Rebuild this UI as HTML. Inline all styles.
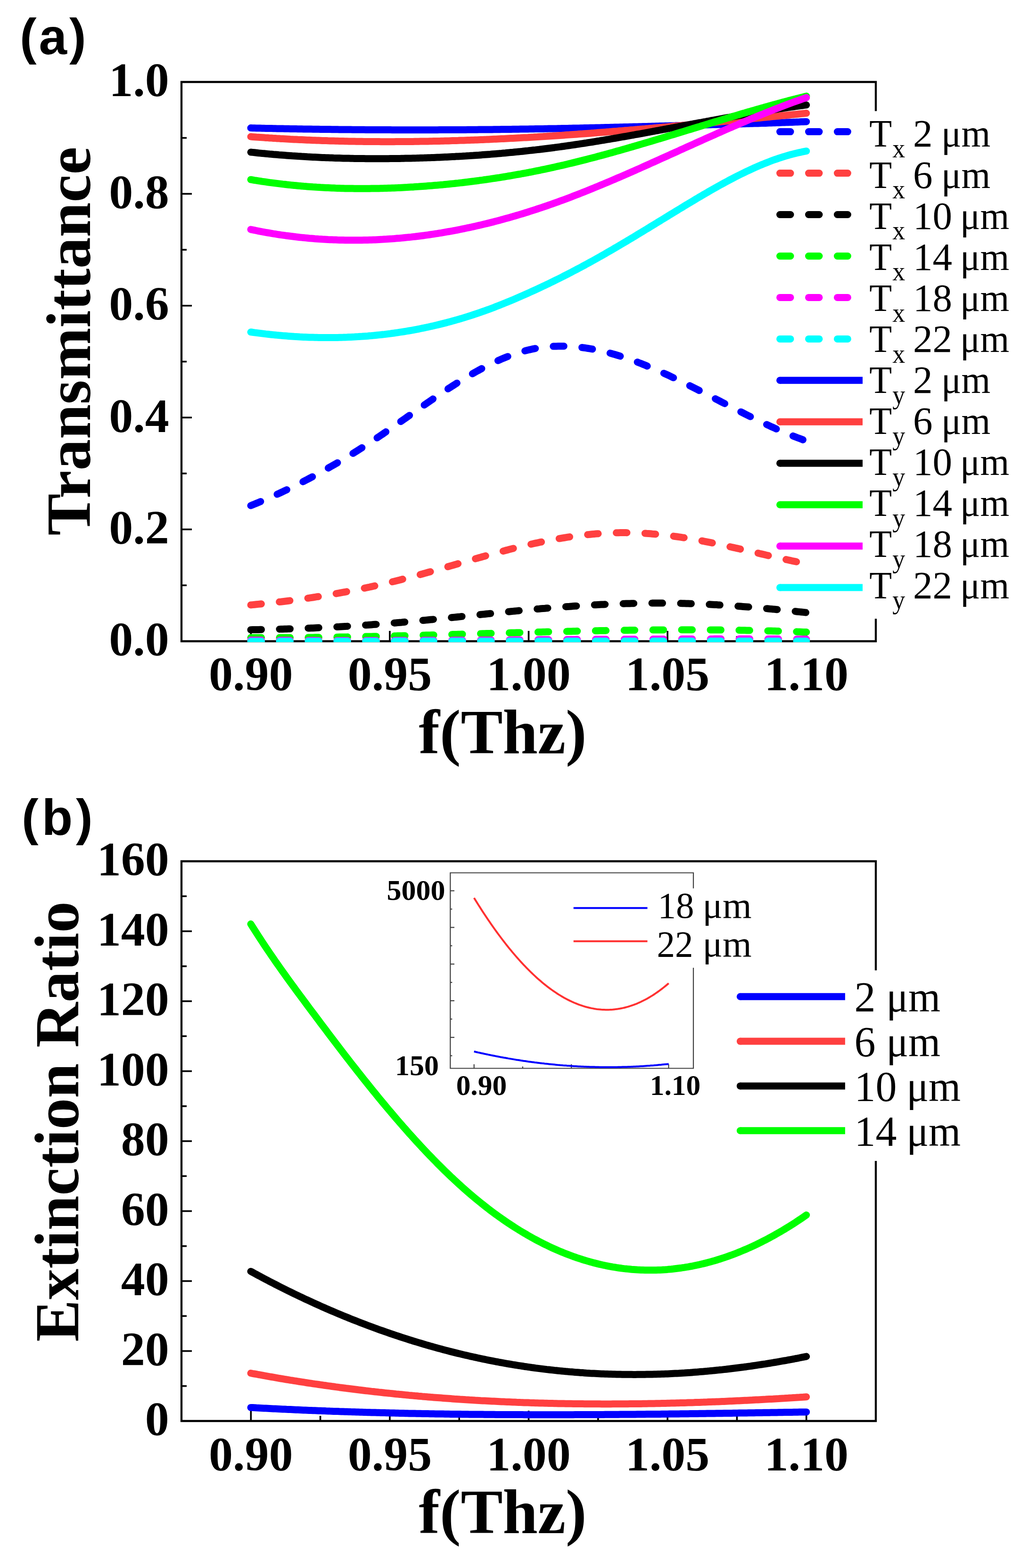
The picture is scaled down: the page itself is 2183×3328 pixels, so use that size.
<!DOCTYPE html>
<html><head><meta charset="utf-8"><title>Transmittance and Extinction Ratio</title>
<style>html,body{margin:0;padding:0;background:#fff;} svg{display:block;}</style></head>
<body><svg width="2183" height="3328" viewBox="0 0 2183 3328">
<rect width="2183" height="3328" fill="#fff"/>
<path d="M1858,235.8 L1858,174 L385,174 L385,1361 L1858,1361 L1858,1313.2" stroke="#000" stroke-width="4.3" fill="none" stroke-linejoin="miter"/>
<g stroke="#000" stroke-width="3.6" fill="none">
<line x1="385" y1="1361.0" x2="407" y2="1361.0"/>
<line x1="385" y1="1242.3" x2="396" y2="1242.3"/>
<line x1="385" y1="1123.6" x2="407" y2="1123.6"/>
<line x1="385" y1="1004.9" x2="396" y2="1004.9"/>
<line x1="385" y1="886.2" x2="407" y2="886.2"/>
<line x1="385" y1="767.5" x2="396" y2="767.5"/>
<line x1="385" y1="648.8" x2="407" y2="648.8"/>
<line x1="385" y1="530.1" x2="396" y2="530.1"/>
<line x1="385" y1="411.4" x2="407" y2="411.4"/>
<line x1="385" y1="292.7" x2="396" y2="292.7"/>
<line x1="385" y1="174.0" x2="407" y2="174.0"/>
<line x1="532.3" y1="1361" x2="532.3" y2="1339"/>
<line x1="679.6" y1="1361" x2="679.6" y2="1350"/>
<line x1="826.9" y1="1361" x2="826.9" y2="1339"/>
<line x1="974.2" y1="1361" x2="974.2" y2="1350"/>
<line x1="1121.5" y1="1361" x2="1121.5" y2="1339"/>
<line x1="1268.8" y1="1361" x2="1268.8" y2="1350"/>
<line x1="1416.1" y1="1361" x2="1416.1" y2="1339"/>
<line x1="1563.4" y1="1361" x2="1563.4" y2="1350"/>
<line x1="1710.7" y1="1361" x2="1710.7" y2="1339"/>
</g>
<text x="358.8" y="1391.4" font-family='"Liberation Serif", "Times New Roman", serif' font-size="102" font-weight="bold" text-anchor="end" >0.0</text>
<text x="358.8" y="1154.0" font-family='"Liberation Serif", "Times New Roman", serif' font-size="102" font-weight="bold" text-anchor="end" >0.2</text>
<text x="358.8" y="916.6" font-family='"Liberation Serif", "Times New Roman", serif' font-size="102" font-weight="bold" text-anchor="end" >0.4</text>
<text x="358.8" y="679.2" font-family='"Liberation Serif", "Times New Roman", serif' font-size="102" font-weight="bold" text-anchor="end" >0.6</text>
<text x="358.8" y="441.8" font-family='"Liberation Serif", "Times New Roman", serif' font-size="102" font-weight="bold" text-anchor="end" >0.8</text>
<text x="358.8" y="204.4" font-family='"Liberation Serif", "Times New Roman", serif' font-size="102" font-weight="bold" text-anchor="end" >1.0</text>
<text x="532.3" y="1465.4" font-family='"Liberation Serif", "Times New Roman", serif' font-size="102" font-weight="bold" text-anchor="middle" >0.90</text>
<text x="826.9" y="1465.4" font-family='"Liberation Serif", "Times New Roman", serif' font-size="102" font-weight="bold" text-anchor="middle" >0.95</text>
<text x="1121.5" y="1465.4" font-family='"Liberation Serif", "Times New Roman", serif' font-size="102" font-weight="bold" text-anchor="middle" >1.00</text>
<text x="1416.1" y="1465.4" font-family='"Liberation Serif", "Times New Roman", serif' font-size="102" font-weight="bold" text-anchor="middle" >1.05</text>
<text x="1710.7" y="1465.4" font-family='"Liberation Serif", "Times New Roman", serif' font-size="102" font-weight="bold" text-anchor="middle" >1.10</text>
<text x="1066.5" y="1599.2" font-family='"Liberation Serif", "Times New Roman", serif' font-size="133.5" font-weight="bold" text-anchor="middle" >f(Thz)</text>
<text transform="translate(190.8,724) rotate(-90)" font-family='"Liberation Serif", "Times New Roman", serif' font-size="133" font-weight="bold" text-anchor="middle">Transmittance</text>
<text x="41.9" y="114.7" font-family='"Liberation Sans", Arial, sans-serif' font-size="107" font-weight="bold" text-anchor="start" letter-spacing="5">(a)</text>
<defs><clipPath id="clipA"><rect x="383" y="172" width="1477" height="1191"/></clipPath><clipPath id="clipB"><rect x="383" y="1826" width="1477" height="1192"/></clipPath></defs>
<g fill="none" stroke-width="15" stroke-linecap="round" stroke-linejoin="round" clip-path="url(#clipA)">
<path d="M532.0,271.6 L536.0,271.7 L540.0,271.8 L544.0,271.9 L548.0,272.0 L552.0,272.1 L556.0,272.2 L560.0,272.3 L564.0,272.4 L568.0,272.4 L572.0,272.5 L576.0,272.6 L580.0,272.7 L584.0,272.8 L588.0,272.9 L592.0,272.9 L596.0,273.0 L600.0,273.1 L604.0,273.2 L608.0,273.2 L612.0,273.3 L616.0,273.4 L620.0,273.5 L624.0,273.5 L628.0,273.6 L632.0,273.7 L636.0,273.7 L640.0,273.8 L644.0,273.9 L648.0,273.9 L652.0,274.0 L656.0,274.0 L660.0,274.1 L664.0,274.2 L668.0,274.2 L672.0,274.3 L676.0,274.3 L680.0,274.4 L684.0,274.4 L688.0,274.5 L692.0,274.5 L696.0,274.6 L700.0,274.6 L704.0,274.7 L708.0,274.7 L712.0,274.8 L716.0,274.8 L720.0,274.9 L724.0,274.9 L728.0,275.0 L732.0,275.0 L736.0,275.0 L740.0,275.1 L744.0,275.1 L748.0,275.2 L752.0,275.2 L756.0,275.2 L760.0,275.3 L764.0,275.3 L768.0,275.3 L772.0,275.3 L776.0,275.4 L780.0,275.4 L784.0,275.4 L788.0,275.4 L792.0,275.5 L796.0,275.5 L800.0,275.5 L804.0,275.5 L808.0,275.6 L812.0,275.6 L816.0,275.6 L820.0,275.6 L824.0,275.6 L828.0,275.6 L832.0,275.7 L836.0,275.7 L840.0,275.7 L844.0,275.7 L848.0,275.7 L852.0,275.7 L856.0,275.7 L860.0,275.7 L864.0,275.7 L868.0,275.7 L872.0,275.7 L876.0,275.7 L880.0,275.7 L884.0,275.7 L888.0,275.7 L892.0,275.7 L896.0,275.7 L900.0,275.7 L904.0,275.7 L908.0,275.7 L912.0,275.7 L916.0,275.7 L920.0,275.7 L924.0,275.7 L928.0,275.7 L932.0,275.6 L936.0,275.6 L940.0,275.6 L944.0,275.6 L948.0,275.6 L952.0,275.6 L956.0,275.5 L960.0,275.5 L964.0,275.5 L968.0,275.5 L972.0,275.5 L976.0,275.4 L980.0,275.4 L984.0,275.4 L988.0,275.4 L992.0,275.3 L996.0,275.3 L1000.0,275.3 L1004.0,275.2 L1008.0,275.2 L1012.0,275.2 L1016.0,275.1 L1020.0,275.1 L1024.0,275.1 L1028.0,275.0 L1032.0,275.0 L1036.0,274.9 L1040.0,274.9 L1044.0,274.9 L1048.0,274.8 L1052.0,274.8 L1056.0,274.7 L1060.0,274.7 L1064.0,274.6 L1068.0,274.6 L1072.0,274.5 L1076.0,274.5 L1080.0,274.4 L1084.0,274.4 L1088.0,274.3 L1092.0,274.3 L1096.0,274.2 L1100.0,274.2 L1104.0,274.1 L1108.0,274.1 L1112.0,274.0 L1116.0,273.9 L1120.0,273.9 L1124.0,273.8 L1128.0,273.8 L1132.0,273.7 L1136.0,273.6 L1140.0,273.6 L1144.0,273.5 L1148.0,273.4 L1152.0,273.4 L1156.0,273.3 L1160.0,273.2 L1164.0,273.1 L1168.0,273.1 L1172.0,273.0 L1176.0,272.9 L1180.0,272.9 L1184.0,272.8 L1188.0,272.7 L1192.0,272.6 L1196.0,272.5 L1200.0,272.5 L1204.0,272.4 L1208.0,272.3 L1212.0,272.2 L1216.0,272.1 L1220.0,272.0 L1224.0,272.0 L1228.0,271.9 L1232.0,271.8 L1236.0,271.7 L1240.0,271.6 L1244.0,271.5 L1248.0,271.4 L1252.0,271.3 L1256.0,271.3 L1260.0,271.2 L1264.0,271.1 L1268.0,271.0 L1272.0,270.9 L1276.0,270.8 L1280.0,270.7 L1284.0,270.6 L1288.0,270.5 L1292.0,270.4 L1296.0,270.3 L1300.0,270.2 L1304.0,270.1 L1308.0,270.0 L1312.0,269.9 L1316.0,269.8 L1320.0,269.7 L1324.0,269.6 L1328.0,269.5 L1332.0,269.4 L1336.0,269.3 L1340.0,269.2 L1344.0,269.1 L1348.0,269.0 L1352.0,268.9 L1356.0,268.8 L1360.0,268.7 L1364.0,268.6 L1368.0,268.5 L1372.0,268.4 L1376.0,268.3 L1380.0,268.2 L1384.0,268.0 L1388.0,267.9 L1392.0,267.8 L1396.0,267.7 L1400.0,267.6 L1404.0,267.5 L1408.0,267.4 L1412.0,267.3 L1416.0,267.2 L1420.0,267.1 L1424.0,267.0 L1428.0,266.9 L1432.0,266.8 L1436.0,266.6 L1440.0,266.5 L1444.0,266.4 L1448.0,266.3 L1452.0,266.2 L1456.0,266.1 L1460.0,266.0 L1464.0,265.9 L1468.0,265.8 L1472.0,265.7 L1476.0,265.6 L1480.0,265.5 L1484.0,265.4 L1488.0,265.2 L1492.0,265.1 L1496.0,265.0 L1500.0,264.9 L1504.0,264.8 L1508.0,264.7 L1512.0,264.6 L1516.0,264.5 L1520.0,264.4 L1524.0,264.3 L1528.0,264.2 L1532.0,264.1 L1536.0,263.9 L1540.0,263.8 L1544.0,263.7 L1548.0,263.6 L1552.0,263.5 L1556.0,263.4 L1560.0,263.3 L1564.0,263.2 L1568.0,263.0 L1572.0,262.9 L1576.0,262.8 L1580.0,262.7 L1584.0,262.6 L1588.0,262.5 L1592.0,262.3 L1596.0,262.2 L1600.0,262.1 L1604.0,262.0 L1608.0,261.9 L1612.0,261.7 L1616.0,261.6 L1620.0,261.5 L1624.0,261.4 L1628.0,261.2 L1632.0,261.1 L1636.0,261.0 L1640.0,260.8 L1644.0,260.7 L1648.0,260.6 L1652.0,260.4 L1656.0,260.3 L1660.0,260.1 L1664.0,260.0 L1668.0,259.8 L1672.0,259.7 L1676.0,259.5 L1680.0,259.4 L1684.0,259.2 L1688.0,259.1 L1692.0,258.9 L1696.0,258.8 L1700.0,258.6 L1704.0,258.5 L1708.0,258.3 L1710.7,258.2" stroke="#0000ff"/>
<path d="M532.0,290.1 L536.0,290.4 L540.0,290.7 L544.0,291.0 L548.0,291.2 L552.0,291.5 L556.0,291.8 L560.0,292.1 L564.0,292.4 L568.0,292.6 L572.0,292.9 L576.0,293.1 L580.0,293.4 L584.0,293.6 L588.0,293.9 L592.0,294.1 L596.0,294.4 L600.0,294.6 L604.0,294.8 L608.0,295.0 L612.0,295.2 L616.0,295.5 L620.0,295.7 L624.0,295.9 L628.0,296.1 L632.0,296.3 L636.0,296.4 L640.0,296.6 L644.0,296.8 L648.0,297.0 L652.0,297.2 L656.0,297.3 L660.0,297.5 L664.0,297.7 L668.0,297.8 L672.0,298.0 L676.0,298.1 L680.0,298.2 L684.0,298.4 L688.0,298.5 L692.0,298.6 L696.0,298.8 L700.0,298.9 L704.0,299.0 L708.0,299.1 L712.0,299.2 L716.0,299.3 L720.0,299.4 L724.0,299.5 L728.0,299.6 L732.0,299.7 L736.0,299.8 L740.0,299.9 L744.0,300.0 L748.0,300.0 L752.0,300.1 L756.0,300.2 L760.0,300.2 L764.0,300.3 L768.0,300.3 L772.0,300.4 L776.0,300.4 L780.0,300.5 L784.0,300.5 L788.0,300.5 L792.0,300.6 L796.0,300.6 L800.0,300.6 L804.0,300.6 L808.0,300.7 L812.0,300.7 L816.0,300.7 L820.0,300.7 L824.0,300.7 L828.0,300.7 L832.0,300.7 L836.0,300.7 L840.0,300.6 L844.0,300.6 L848.0,300.6 L852.0,300.6 L856.0,300.6 L860.0,300.5 L864.0,300.5 L868.0,300.4 L872.0,300.4 L876.0,300.4 L880.0,300.3 L884.0,300.3 L888.0,300.2 L892.0,300.1 L896.0,300.1 L900.0,300.0 L904.0,299.9 L908.0,299.9 L912.0,299.8 L916.0,299.7 L920.0,299.6 L924.0,299.5 L928.0,299.5 L932.0,299.4 L936.0,299.3 L940.0,299.2 L944.0,299.1 L948.0,299.0 L952.0,298.9 L956.0,298.7 L960.0,298.6 L964.0,298.5 L968.0,298.4 L972.0,298.3 L976.0,298.1 L980.0,298.0 L984.0,297.9 L988.0,297.7 L992.0,297.6 L996.0,297.5 L1000.0,297.3 L1004.0,297.2 L1008.0,297.0 L1012.0,296.9 L1016.0,296.7 L1020.0,296.5 L1024.0,296.4 L1028.0,296.2 L1032.0,296.1 L1036.0,295.9 L1040.0,295.7 L1044.0,295.5 L1048.0,295.3 L1052.0,295.2 L1056.0,295.0 L1060.0,294.8 L1064.0,294.6 L1068.0,294.4 L1072.0,294.2 L1076.0,294.0 L1080.0,293.8 L1084.0,293.6 L1088.0,293.4 L1092.0,293.2 L1096.0,293.0 L1100.0,292.8 L1104.0,292.6 L1108.0,292.3 L1112.0,292.1 L1116.0,291.9 L1120.0,291.7 L1124.0,291.4 L1128.0,291.2 L1132.0,291.0 L1136.0,290.7 L1140.0,290.5 L1144.0,290.2 L1148.0,290.0 L1152.0,289.8 L1156.0,289.5 L1160.0,289.3 L1164.0,289.0 L1168.0,288.7 L1172.0,288.5 L1176.0,288.2 L1180.0,288.0 L1184.0,287.7 L1188.0,287.4 L1192.0,287.2 L1196.0,286.9 L1200.0,286.6 L1204.0,286.3 L1208.0,286.1 L1212.0,285.8 L1216.0,285.5 L1220.0,285.2 L1224.0,284.9 L1228.0,284.6 L1232.0,284.3 L1236.0,284.1 L1240.0,283.8 L1244.0,283.5 L1248.0,283.2 L1252.0,282.9 L1256.0,282.6 L1260.0,282.3 L1264.0,281.9 L1268.0,281.6 L1272.0,281.3 L1276.0,281.0 L1280.0,280.7 L1284.0,280.4 L1288.0,280.1 L1292.0,279.8 L1296.0,279.4 L1300.0,279.1 L1304.0,278.8 L1308.0,278.5 L1312.0,278.1 L1316.0,277.8 L1320.0,277.5 L1324.0,277.1 L1328.0,276.8 L1332.0,276.5 L1336.0,276.1 L1340.0,275.8 L1344.0,275.5 L1348.0,275.1 L1352.0,274.8 L1356.0,274.4 L1360.0,274.1 L1364.0,273.7 L1368.0,273.4 L1372.0,273.0 L1376.0,272.7 L1380.0,272.3 L1384.0,272.0 L1388.0,271.6 L1392.0,271.3 L1396.0,270.9 L1400.0,270.5 L1404.0,270.2 L1408.0,269.8 L1412.0,269.5 L1416.0,269.1 L1420.0,268.7 L1424.0,268.4 L1428.0,268.0 L1432.0,267.6 L1436.0,267.3 L1440.0,266.9 L1444.0,266.5 L1448.0,266.1 L1452.0,265.8 L1456.0,265.4 L1460.0,265.0 L1464.0,264.6 L1468.0,264.3 L1472.0,263.9 L1476.0,263.5 L1480.0,263.1 L1484.0,262.7 L1488.0,262.4 L1492.0,262.0 L1496.0,261.6 L1500.0,261.2 L1504.0,260.8 L1508.0,260.4 L1512.0,260.0 L1516.0,259.7 L1520.0,259.3 L1524.0,258.9 L1528.0,258.5 L1532.0,258.1 L1536.0,257.7 L1540.0,257.3 L1544.0,256.9 L1548.0,256.5 L1552.0,256.1 L1556.0,255.7 L1560.0,255.3 L1564.0,255.0 L1568.0,254.6 L1572.0,254.2 L1576.0,253.8 L1580.0,253.4 L1584.0,253.0 L1588.0,252.6 L1592.0,252.2 L1596.0,251.8 L1600.0,251.4 L1604.0,251.0 L1608.0,250.6 L1612.0,250.2 L1616.0,249.8 L1620.0,249.4 L1624.0,249.0 L1628.0,248.6 L1632.0,248.2 L1636.0,247.8 L1640.0,247.4 L1644.0,247.0 L1648.0,246.6 L1652.0,246.2 L1656.0,245.8 L1660.0,245.4 L1664.0,245.0 L1668.0,244.6 L1672.0,244.2 L1676.0,243.8 L1680.0,243.4 L1684.0,243.0 L1688.0,242.6 L1692.0,242.2 L1696.0,241.8 L1700.0,241.4 L1704.0,241.0 L1708.0,240.6 L1710.7,240.3" stroke="#ff4040"/>
<path d="M532.0,323.0 L536.0,323.4 L540.0,323.8 L544.0,324.2 L548.0,324.7 L552.0,325.1 L556.0,325.5 L560.0,325.8 L564.0,326.2 L568.0,326.6 L572.0,327.0 L576.0,327.3 L580.0,327.7 L584.0,328.0 L588.0,328.3 L592.0,328.7 L596.0,329.0 L600.0,329.3 L604.0,329.6 L608.0,329.9 L612.0,330.2 L616.0,330.5 L620.0,330.8 L624.0,331.0 L628.0,331.3 L632.0,331.6 L636.0,331.8 L640.0,332.1 L644.0,332.3 L648.0,332.5 L652.0,332.8 L656.0,333.0 L660.0,333.2 L664.0,333.4 L668.0,333.6 L672.0,333.8 L676.0,334.0 L680.0,334.2 L684.0,334.4 L688.0,334.5 L692.0,334.7 L696.0,334.8 L700.0,335.0 L704.0,335.1 L708.0,335.3 L712.0,335.4 L716.0,335.5 L720.0,335.6 L724.0,335.7 L728.0,335.9 L732.0,336.0 L736.0,336.0 L740.0,336.1 L744.0,336.2 L748.0,336.3 L752.0,336.4 L756.0,336.4 L760.0,336.5 L764.0,336.5 L768.0,336.6 L772.0,336.6 L776.0,336.7 L780.0,336.7 L784.0,336.7 L788.0,336.7 L792.0,336.7 L796.0,336.8 L800.0,336.8 L804.0,336.8 L808.0,336.7 L812.0,336.7 L816.0,336.7 L820.0,336.7 L824.0,336.7 L828.0,336.6 L832.0,336.6 L836.0,336.5 L840.0,336.5 L844.0,336.4 L848.0,336.4 L852.0,336.3 L856.0,336.2 L860.0,336.1 L864.0,336.0 L868.0,336.0 L872.0,335.9 L876.0,335.8 L880.0,335.7 L884.0,335.6 L888.0,335.4 L892.0,335.3 L896.0,335.2 L900.0,335.1 L904.0,334.9 L908.0,334.8 L912.0,334.7 L916.0,334.5 L920.0,334.4 L924.0,334.2 L928.0,334.0 L932.0,333.9 L936.0,333.7 L940.0,333.5 L944.0,333.3 L948.0,333.2 L952.0,333.0 L956.0,332.8 L960.0,332.6 L964.0,332.4 L968.0,332.1 L972.0,331.9 L976.0,331.7 L980.0,331.5 L984.0,331.2 L988.0,331.0 L992.0,330.7 L996.0,330.5 L1000.0,330.2 L1004.0,330.0 L1008.0,329.7 L1012.0,329.4 L1016.0,329.2 L1020.0,328.9 L1024.0,328.6 L1028.0,328.3 L1032.0,328.0 L1036.0,327.7 L1040.0,327.4 L1044.0,327.0 L1048.0,326.7 L1052.0,326.4 L1056.0,326.1 L1060.0,325.7 L1064.0,325.4 L1068.0,325.0 L1072.0,324.7 L1076.0,324.3 L1080.0,323.9 L1084.0,323.5 L1088.0,323.2 L1092.0,322.8 L1096.0,322.4 L1100.0,322.0 L1104.0,321.6 L1108.0,321.2 L1112.0,320.7 L1116.0,320.3 L1120.0,319.9 L1124.0,319.4 L1128.0,319.0 L1132.0,318.5 L1136.0,318.1 L1140.0,317.6 L1144.0,317.2 L1148.0,316.7 L1152.0,316.2 L1156.0,315.7 L1160.0,315.2 L1164.0,314.7 L1168.0,314.2 L1172.0,313.7 L1176.0,313.2 L1180.0,312.6 L1184.0,312.1 L1188.0,311.6 L1192.0,311.0 L1196.0,310.5 L1200.0,309.9 L1204.0,309.3 L1208.0,308.8 L1212.0,308.2 L1216.0,307.6 L1220.0,307.0 L1224.0,306.4 L1228.0,305.8 L1232.0,305.2 L1236.0,304.6 L1240.0,304.0 L1244.0,303.4 L1248.0,302.7 L1252.0,302.1 L1256.0,301.5 L1260.0,300.8 L1264.0,300.2 L1268.0,299.5 L1272.0,298.9 L1276.0,298.2 L1280.0,297.6 L1284.0,296.9 L1288.0,296.2 L1292.0,295.6 L1296.0,294.9 L1300.0,294.2 L1304.0,293.5 L1308.0,292.8 L1312.0,292.1 L1316.0,291.4 L1320.0,290.7 L1324.0,290.0 L1328.0,289.3 L1332.0,288.6 L1336.0,287.9 L1340.0,287.2 L1344.0,286.5 L1348.0,285.7 L1352.0,285.0 L1356.0,284.3 L1360.0,283.6 L1364.0,282.8 L1368.0,282.1 L1372.0,281.4 L1376.0,280.7 L1380.0,279.9 L1384.0,279.2 L1388.0,278.4 L1392.0,277.7 L1396.0,277.0 L1400.0,276.2 L1404.0,275.5 L1408.0,274.7 L1412.0,274.0 L1416.0,273.2 L1420.0,272.5 L1424.0,271.7 L1428.0,271.0 L1432.0,270.2 L1436.0,269.5 L1440.0,268.7 L1444.0,268.0 L1448.0,267.2 L1452.0,266.5 L1456.0,265.7 L1460.0,265.0 L1464.0,264.2 L1468.0,263.5 L1472.0,262.7 L1476.0,262.0 L1480.0,261.2 L1484.0,260.5 L1488.0,259.8 L1492.0,259.0 L1496.0,258.3 L1500.0,257.5 L1504.0,256.8 L1508.0,256.0 L1512.0,255.3 L1516.0,254.6 L1520.0,253.8 L1524.0,253.1 L1528.0,252.4 L1532.0,251.7 L1536.0,250.9 L1540.0,250.2 L1544.0,249.5 L1548.0,248.8 L1552.0,248.0 L1556.0,247.3 L1560.0,246.6 L1564.0,245.9 L1568.0,245.2 L1572.0,244.5 L1576.0,243.8 L1580.0,243.1 L1584.0,242.4 L1588.0,241.7 L1592.0,241.0 L1596.0,240.4 L1600.0,239.7 L1604.0,239.0 L1608.0,238.3 L1612.0,237.7 L1616.0,237.0 L1620.0,236.4 L1624.0,235.7 L1628.0,235.0 L1632.0,234.4 L1636.0,233.8 L1640.0,233.1 L1644.0,232.5 L1648.0,231.9 L1652.0,231.2 L1656.0,230.6 L1660.0,230.0 L1664.0,229.4 L1668.0,228.8 L1672.0,228.2 L1676.0,227.6 L1680.0,227.1 L1684.0,226.5 L1688.0,225.9 L1692.0,225.3 L1696.0,224.8 L1700.0,224.2 L1704.0,223.7 L1708.0,223.1 L1710.7,222.8" stroke="#000000"/>
<path d="M532.0,381.2 L536.0,381.9 L540.0,382.6 L544.0,383.2 L548.0,383.8 L552.0,384.4 L556.0,385.1 L560.0,385.6 L564.0,386.2 L568.0,386.8 L572.0,387.4 L576.0,387.9 L580.0,388.4 L584.0,388.9 L588.0,389.4 L592.0,389.9 L596.0,390.4 L600.0,390.9 L604.0,391.3 L608.0,391.8 L612.0,392.2 L616.0,392.6 L620.0,393.1 L624.0,393.4 L628.0,393.8 L632.0,394.2 L636.0,394.6 L640.0,394.9 L644.0,395.3 L648.0,395.6 L652.0,395.9 L656.0,396.2 L660.0,396.5 L664.0,396.8 L668.0,397.0 L672.0,397.3 L676.0,397.5 L680.0,397.8 L684.0,398.0 L688.0,398.2 L692.0,398.4 L696.0,398.6 L700.0,398.8 L704.0,399.0 L708.0,399.1 L712.0,399.3 L716.0,399.4 L720.0,399.5 L724.0,399.7 L728.0,399.8 L732.0,399.9 L736.0,399.9 L740.0,400.0 L744.0,400.1 L748.0,400.1 L752.0,400.2 L756.0,400.2 L760.0,400.2 L764.0,400.3 L768.0,400.3 L772.0,400.3 L776.0,400.2 L780.0,400.2 L784.0,400.2 L788.0,400.1 L792.0,400.1 L796.0,400.0 L800.0,400.0 L804.0,399.9 L808.0,399.8 L812.0,399.7 L816.0,399.6 L820.0,399.5 L824.0,399.3 L828.0,399.2 L832.0,399.0 L836.0,398.9 L840.0,398.7 L844.0,398.6 L848.0,398.4 L852.0,398.2 L856.0,398.0 L860.0,397.8 L864.0,397.6 L868.0,397.3 L872.0,397.1 L876.0,396.9 L880.0,396.6 L884.0,396.3 L888.0,396.1 L892.0,395.8 L896.0,395.5 L900.0,395.2 L904.0,394.9 L908.0,394.6 L912.0,394.3 L916.0,394.0 L920.0,393.6 L924.0,393.3 L928.0,393.0 L932.0,392.6 L936.0,392.2 L940.0,391.9 L944.0,391.5 L948.0,391.1 L952.0,390.7 L956.0,390.3 L960.0,389.9 L964.0,389.5 L968.0,389.0 L972.0,388.6 L976.0,388.1 L980.0,387.7 L984.0,387.2 L988.0,386.7 L992.0,386.3 L996.0,385.8 L1000.0,385.3 L1004.0,384.8 L1008.0,384.2 L1012.0,383.7 L1016.0,383.2 L1020.0,382.6 L1024.0,382.1 L1028.0,381.5 L1032.0,381.0 L1036.0,380.4 L1040.0,379.8 L1044.0,379.2 L1048.0,378.6 L1052.0,378.0 L1056.0,377.4 L1060.0,376.8 L1064.0,376.1 L1068.0,375.5 L1072.0,374.8 L1076.0,374.2 L1080.0,373.5 L1084.0,372.8 L1088.0,372.1 L1092.0,371.4 L1096.0,370.7 L1100.0,370.0 L1104.0,369.3 L1108.0,368.5 L1112.0,367.8 L1116.0,367.1 L1120.0,366.3 L1124.0,365.5 L1128.0,364.8 L1132.0,364.0 L1136.0,363.2 L1140.0,362.4 L1144.0,361.6 L1148.0,360.7 L1152.0,359.9 L1156.0,359.1 L1160.0,358.2 L1164.0,357.4 L1168.0,356.5 L1172.0,355.6 L1176.0,354.7 L1180.0,353.8 L1184.0,352.9 L1188.0,352.0 L1192.0,351.1 L1196.0,350.2 L1200.0,349.2 L1204.0,348.3 L1208.0,347.3 L1212.0,346.4 L1216.0,345.4 L1220.0,344.4 L1224.0,343.4 L1228.0,342.4 L1232.0,341.4 L1236.0,340.4 L1240.0,339.4 L1244.0,338.4 L1248.0,337.3 L1252.0,336.3 L1256.0,335.3 L1260.0,334.2 L1264.0,333.2 L1268.0,332.1 L1272.0,331.0 L1276.0,329.9 L1280.0,328.9 L1284.0,327.8 L1288.0,326.7 L1292.0,325.6 L1296.0,324.5 L1300.0,323.4 L1304.0,322.2 L1308.0,321.1 L1312.0,320.0 L1316.0,318.9 L1320.0,317.7 L1324.0,316.6 L1328.0,315.4 L1332.0,314.3 L1336.0,313.1 L1340.0,312.0 L1344.0,310.8 L1348.0,309.6 L1352.0,308.5 L1356.0,307.3 L1360.0,306.1 L1364.0,304.9 L1368.0,303.7 L1372.0,302.6 L1376.0,301.4 L1380.0,300.2 L1384.0,299.0 L1388.0,297.8 L1392.0,296.6 L1396.0,295.4 L1400.0,294.2 L1404.0,293.0 L1408.0,291.8 L1412.0,290.5 L1416.0,289.3 L1420.0,288.1 L1424.0,286.9 L1428.0,285.7 L1432.0,284.5 L1436.0,283.2 L1440.0,282.0 L1444.0,280.8 L1448.0,279.6 L1452.0,278.4 L1456.0,277.1 L1460.0,275.9 L1464.0,274.7 L1468.0,273.5 L1472.0,272.2 L1476.0,271.0 L1480.0,269.8 L1484.0,268.6 L1488.0,267.3 L1492.0,266.1 L1496.0,264.9 L1500.0,263.7 L1504.0,262.5 L1508.0,261.2 L1512.0,260.0 L1516.0,258.8 L1520.0,257.6 L1524.0,256.4 L1528.0,255.2 L1532.0,254.0 L1536.0,252.8 L1540.0,251.6 L1544.0,250.4 L1548.0,249.2 L1552.0,248.0 L1556.0,246.8 L1560.0,245.6 L1564.0,244.4 L1568.0,243.2 L1572.0,242.0 L1576.0,240.8 L1580.0,239.7 L1584.0,238.5 L1588.0,237.3 L1592.0,236.2 L1596.0,235.0 L1600.0,233.9 L1604.0,232.7 L1608.0,231.6 L1612.0,230.4 L1616.0,229.3 L1620.0,228.2 L1624.0,227.0 L1628.0,225.9 L1632.0,224.8 L1636.0,223.7 L1640.0,222.6 L1644.0,221.5 L1648.0,220.4 L1652.0,219.3 L1656.0,218.2 L1660.0,217.1 L1664.0,216.1 L1668.0,215.0 L1672.0,213.9 L1676.0,212.9 L1680.0,211.8 L1684.0,210.8 L1688.0,209.8 L1692.0,208.7 L1696.0,207.7 L1700.0,206.7 L1704.0,205.7 L1708.0,204.7 L1710.7,204.1" stroke="#00ff00"/>
<path d="M532.0,487.1 L536.0,487.9 L540.0,488.7 L544.0,489.5 L548.0,490.3 L552.0,491.1 L556.0,491.9 L560.0,492.6 L564.0,493.3 L568.0,494.0 L572.0,494.7 L576.0,495.4 L580.0,496.1 L584.0,496.7 L588.0,497.4 L592.0,498.0 L596.0,498.6 L600.0,499.1 L604.0,499.7 L608.0,500.3 L612.0,500.8 L616.0,501.3 L620.0,501.8 L624.0,502.3 L628.0,502.8 L632.0,503.2 L636.0,503.7 L640.0,504.1 L644.0,504.5 L648.0,504.9 L652.0,505.3 L656.0,505.7 L660.0,506.0 L664.0,506.3 L668.0,506.7 L672.0,507.0 L676.0,507.3 L680.0,507.5 L684.0,507.8 L688.0,508.0 L692.0,508.2 L696.0,508.5 L700.0,508.7 L704.0,508.8 L708.0,509.0 L712.0,509.1 L716.0,509.3 L720.0,509.4 L724.0,509.5 L728.0,509.6 L732.0,509.7 L736.0,509.7 L740.0,509.8 L744.0,509.8 L748.0,509.8 L752.0,509.8 L756.0,509.8 L760.0,509.8 L764.0,509.7 L768.0,509.7 L772.0,509.6 L776.0,509.5 L780.0,509.4 L784.0,509.3 L788.0,509.2 L792.0,509.0 L796.0,508.9 L800.0,508.7 L804.0,508.5 L808.0,508.3 L812.0,508.1 L816.0,507.8 L820.0,507.6 L824.0,507.3 L828.0,507.0 L832.0,506.8 L836.0,506.5 L840.0,506.1 L844.0,505.8 L848.0,505.5 L852.0,505.1 L856.0,504.7 L860.0,504.3 L864.0,503.9 L868.0,503.5 L872.0,503.1 L876.0,502.6 L880.0,502.2 L884.0,501.7 L888.0,501.2 L892.0,500.7 L896.0,500.2 L900.0,499.7 L904.0,499.1 L908.0,498.6 L912.0,498.0 L916.0,497.4 L920.0,496.8 L924.0,496.2 L928.0,495.6 L932.0,494.9 L936.0,494.3 L940.0,493.6 L944.0,492.9 L948.0,492.2 L952.0,491.5 L956.0,490.8 L960.0,490.1 L964.0,489.3 L968.0,488.6 L972.0,487.8 L976.0,487.0 L980.0,486.2 L984.0,485.4 L988.0,484.5 L992.0,483.7 L996.0,482.9 L1000.0,482.0 L1004.0,481.1 L1008.0,480.2 L1012.0,479.3 L1016.0,478.4 L1020.0,477.5 L1024.0,476.5 L1028.0,475.5 L1032.0,474.6 L1036.0,473.6 L1040.0,472.6 L1044.0,471.6 L1048.0,470.6 L1052.0,469.5 L1056.0,468.5 L1060.0,467.4 L1064.0,466.3 L1068.0,465.2 L1072.0,464.1 L1076.0,463.0 L1080.0,461.9 L1084.0,460.8 L1088.0,459.6 L1092.0,458.5 L1096.0,457.3 L1100.0,456.1 L1104.0,454.9 L1108.0,453.7 L1112.0,452.5 L1116.0,451.2 L1120.0,450.0 L1124.0,448.7 L1128.0,447.4 L1132.0,446.1 L1136.0,444.8 L1140.0,443.5 L1144.0,442.2 L1148.0,440.9 L1152.0,439.5 L1156.0,438.2 L1160.0,436.8 L1164.0,435.4 L1168.0,434.0 L1172.0,432.6 L1176.0,431.2 L1180.0,429.7 L1184.0,428.3 L1188.0,426.8 L1192.0,425.4 L1196.0,423.9 L1200.0,422.4 L1204.0,420.9 L1208.0,419.4 L1212.0,417.9 L1216.0,416.3 L1220.0,414.8 L1224.0,413.3 L1228.0,411.7 L1232.0,410.1 L1236.0,408.5 L1240.0,407.0 L1244.0,405.4 L1248.0,403.8 L1252.0,402.1 L1256.0,400.5 L1260.0,398.9 L1264.0,397.2 L1268.0,395.6 L1272.0,393.9 L1276.0,392.3 L1280.0,390.6 L1284.0,388.9 L1288.0,387.3 L1292.0,385.6 L1296.0,383.9 L1300.0,382.2 L1304.0,380.5 L1308.0,378.7 L1312.0,377.0 L1316.0,375.3 L1320.0,373.6 L1324.0,371.8 L1328.0,370.1 L1332.0,368.3 L1336.0,366.6 L1340.0,364.8 L1344.0,363.1 L1348.0,361.3 L1352.0,359.5 L1356.0,357.8 L1360.0,356.0 L1364.0,354.2 L1368.0,352.4 L1372.0,350.6 L1376.0,348.8 L1380.0,347.0 L1384.0,345.2 L1388.0,343.5 L1392.0,341.7 L1396.0,339.9 L1400.0,338.0 L1404.0,336.2 L1408.0,334.4 L1412.0,332.6 L1416.0,330.8 L1420.0,329.0 L1424.0,327.2 L1428.0,325.4 L1432.0,323.6 L1436.0,321.8 L1440.0,320.0 L1444.0,318.1 L1448.0,316.3 L1452.0,314.5 L1456.0,312.7 L1460.0,310.9 L1464.0,309.1 L1468.0,307.3 L1472.0,305.5 L1476.0,303.7 L1480.0,301.9 L1484.0,300.1 L1488.0,298.3 L1492.0,296.5 L1496.0,294.7 L1500.0,292.9 L1504.0,291.1 L1508.0,289.3 L1512.0,287.6 L1516.0,285.8 L1520.0,284.0 L1524.0,282.2 L1528.0,280.5 L1532.0,278.7 L1536.0,276.9 L1540.0,275.2 L1544.0,273.4 L1548.0,271.7 L1552.0,270.0 L1556.0,268.2 L1560.0,266.5 L1564.0,264.8 L1568.0,263.1 L1572.0,261.4 L1576.0,259.7 L1580.0,258.0 L1584.0,256.3 L1588.0,254.6 L1592.0,252.9 L1596.0,251.2 L1600.0,249.6 L1604.0,247.9 L1608.0,246.3 L1612.0,244.6 L1616.0,243.0 L1620.0,241.4 L1624.0,239.8 L1628.0,238.1 L1632.0,236.5 L1636.0,235.0 L1640.0,233.4 L1644.0,231.8 L1648.0,230.2 L1652.0,228.7 L1656.0,227.1 L1660.0,225.6 L1664.0,224.1 L1668.0,222.6 L1672.0,221.1 L1676.0,219.6 L1680.0,218.1 L1684.0,216.6 L1688.0,215.2 L1692.0,213.7 L1696.0,212.3 L1700.0,210.9 L1704.0,209.5 L1708.0,208.1 L1710.7,207.1" stroke="#ff00ff"/>
<path d="M532.0,704.8 L536.0,705.3 L540.0,705.9 L544.0,706.4 L548.0,706.9 L552.0,707.4 L556.0,707.9 L560.0,708.4 L564.0,708.9 L568.0,709.3 L572.0,709.8 L576.0,710.2 L580.0,710.6 L584.0,711.0 L588.0,711.4 L592.0,711.8 L596.0,712.1 L600.0,712.5 L604.0,712.8 L608.0,713.1 L612.0,713.4 L616.0,713.7 L620.0,714.0 L624.0,714.3 L628.0,714.5 L632.0,714.7 L636.0,715.0 L640.0,715.2 L644.0,715.4 L648.0,715.5 L652.0,715.7 L656.0,715.9 L660.0,716.0 L664.0,716.1 L668.0,716.2 L672.0,716.3 L676.0,716.4 L680.0,716.5 L684.0,716.5 L688.0,716.5 L692.0,716.6 L696.0,716.6 L700.0,716.6 L704.0,716.5 L708.0,716.5 L712.0,716.4 L716.0,716.4 L720.0,716.3 L724.0,716.2 L728.0,716.1 L732.0,715.9 L736.0,715.8 L740.0,715.6 L744.0,715.5 L748.0,715.3 L752.0,715.1 L756.0,714.8 L760.0,714.6 L764.0,714.3 L768.0,714.1 L772.0,713.8 L776.0,713.5 L780.0,713.2 L784.0,712.8 L788.0,712.5 L792.0,712.1 L796.0,711.7 L800.0,711.3 L804.0,710.9 L808.0,710.5 L812.0,710.0 L816.0,709.6 L820.0,709.1 L824.0,708.6 L828.0,708.1 L832.0,707.5 L836.0,707.0 L840.0,706.4 L844.0,705.8 L848.0,705.2 L852.0,704.6 L856.0,704.0 L860.0,703.3 L864.0,702.7 L868.0,702.0 L872.0,701.3 L876.0,700.6 L880.0,699.8 L884.0,699.1 L888.0,698.3 L892.0,697.5 L896.0,696.7 L900.0,695.9 L904.0,695.0 L908.0,694.2 L912.0,693.3 L916.0,692.4 L920.0,691.5 L924.0,690.5 L928.0,689.6 L932.0,688.6 L936.0,687.6 L940.0,686.6 L944.0,685.6 L948.0,684.6 L952.0,683.5 L956.0,682.4 L960.0,681.3 L964.0,680.2 L968.0,679.1 L972.0,677.9 L976.0,676.8 L980.0,675.6 L984.0,674.4 L988.0,673.1 L992.0,671.9 L996.0,670.6 L1000.0,669.3 L1004.0,668.0 L1008.0,666.7 L1012.0,665.3 L1016.0,664.0 L1020.0,662.6 L1024.0,661.2 L1028.0,659.8 L1032.0,658.3 L1036.0,656.9 L1040.0,655.4 L1044.0,653.9 L1048.0,652.4 L1052.0,650.8 L1056.0,649.3 L1060.0,647.7 L1064.0,646.1 L1068.0,644.5 L1072.0,642.9 L1076.0,641.3 L1080.0,639.6 L1084.0,638.0 L1088.0,636.3 L1092.0,634.6 L1096.0,632.9 L1100.0,631.2 L1104.0,629.4 L1108.0,627.7 L1112.0,625.9 L1116.0,624.1 L1120.0,622.3 L1124.0,620.5 L1128.0,618.7 L1132.0,616.9 L1136.0,615.1 L1140.0,613.2 L1144.0,611.4 L1148.0,609.5 L1152.0,607.6 L1156.0,605.7 L1160.0,603.8 L1164.0,601.9 L1168.0,599.9 L1172.0,598.0 L1176.0,596.0 L1180.0,594.1 L1184.0,592.1 L1188.0,590.1 L1192.0,588.1 L1196.0,586.0 L1200.0,584.0 L1204.0,582.0 L1208.0,579.9 L1212.0,577.8 L1216.0,575.7 L1220.0,573.6 L1224.0,571.5 L1228.0,569.4 L1232.0,567.3 L1236.0,565.1 L1240.0,563.0 L1244.0,560.8 L1248.0,558.6 L1252.0,556.4 L1256.0,554.2 L1260.0,552.0 L1264.0,549.8 L1268.0,547.5 L1272.0,545.3 L1276.0,543.0 L1280.0,540.7 L1284.0,538.4 L1288.0,536.1 L1292.0,533.8 L1296.0,531.5 L1300.0,529.2 L1304.0,526.8 L1308.0,524.5 L1312.0,522.1 L1316.0,519.8 L1320.0,517.4 L1324.0,515.0 L1328.0,512.7 L1332.0,510.3 L1336.0,507.9 L1340.0,505.5 L1344.0,503.1 L1348.0,500.7 L1352.0,498.2 L1356.0,495.8 L1360.0,493.4 L1364.0,491.0 L1368.0,488.5 L1372.0,486.1 L1376.0,483.7 L1380.0,481.2 L1384.0,478.8 L1388.0,476.3 L1392.0,473.9 L1396.0,471.4 L1400.0,469.0 L1404.0,466.5 L1408.0,464.1 L1412.0,461.6 L1416.0,459.2 L1420.0,456.7 L1424.0,454.3 L1428.0,451.9 L1432.0,449.4 L1436.0,447.0 L1440.0,444.5 L1444.0,442.1 L1448.0,439.7 L1452.0,437.2 L1456.0,434.8 L1460.0,432.4 L1464.0,430.0 L1468.0,427.6 L1472.0,425.2 L1476.0,422.8 L1480.0,420.4 L1484.0,418.0 L1488.0,415.7 L1492.0,413.3 L1496.0,411.0 L1500.0,408.7 L1504.0,406.3 L1508.0,404.0 L1512.0,401.8 L1516.0,399.5 L1520.0,397.2 L1524.0,395.0 L1528.0,392.8 L1532.0,390.6 L1536.0,388.4 L1540.0,386.2 L1544.0,384.1 L1548.0,381.9 L1552.0,379.8 L1556.0,377.8 L1560.0,375.7 L1564.0,373.6 L1568.0,371.6 L1572.0,369.6 L1576.0,367.7 L1580.0,365.7 L1584.0,363.8 L1588.0,361.9 L1592.0,360.1 L1596.0,358.2 L1600.0,356.4 L1604.0,354.7 L1608.0,352.9 L1612.0,351.2 L1616.0,349.5 L1620.0,347.9 L1624.0,346.3 L1628.0,344.7 L1632.0,343.1 L1636.0,341.6 L1640.0,340.1 L1644.0,338.7 L1648.0,337.3 L1652.0,335.9 L1656.0,334.6 L1660.0,333.3 L1664.0,332.1 L1668.0,330.9 L1672.0,329.7 L1676.0,328.6 L1680.0,327.5 L1684.0,326.5 L1688.0,325.5 L1692.0,324.5 L1696.0,323.6 L1700.0,322.8 L1704.0,321.9 L1708.0,321.2 L1710.7,320.7" stroke="#00ffff"/>
<path d="M532.0,1073.1 L536.0,1071.5 L540.0,1069.9 L544.0,1068.3 L548.0,1066.6 L552.0,1064.9 L556.0,1063.2 L560.0,1061.5 L564.0,1059.8 L568.0,1058.0 L572.0,1056.3 L576.0,1054.5 L580.0,1052.7 L584.0,1050.9 L588.0,1049.1 L592.0,1047.2 L596.0,1045.4 L600.0,1043.5 L604.0,1041.6 L608.0,1039.7 L612.0,1037.8 L616.0,1035.8 L620.0,1033.9 L624.0,1031.9 L628.0,1029.9 L632.0,1027.9 L636.0,1025.9 L640.0,1023.8 L644.0,1021.8 L648.0,1019.7 L652.0,1017.6 L656.0,1015.5 L660.0,1013.4 L664.0,1011.3 L668.0,1009.1 L672.0,1007.0 L676.0,1004.8 L680.0,1002.6 L684.0,1000.4 L688.0,998.1 L692.0,995.9 L696.0,993.6 L700.0,991.3 L704.0,989.0 L708.0,986.7 L712.0,984.4 L716.0,982.1 L720.0,979.7 L724.0,977.3 L728.0,974.9 L732.0,972.5 L736.0,970.1 L740.0,967.7 L744.0,965.2 L748.0,962.8 L752.0,960.3 L756.0,957.8 L760.0,955.3 L764.0,952.7 L768.0,950.2 L772.0,947.6 L776.0,945.1 L780.0,942.5 L784.0,939.9 L788.0,937.2 L792.0,934.6 L796.0,931.9 L800.0,929.3 L804.0,926.6 L808.0,923.9 L812.0,921.2 L816.0,918.4 L820.0,915.7 L824.0,913.0 L828.0,910.2 L832.0,907.4 L836.0,904.6 L840.0,901.8 L844.0,899.1 L848.0,896.3 L852.0,893.4 L856.0,890.6 L860.0,887.8 L864.0,885.0 L868.0,882.2 L872.0,879.4 L876.0,876.5 L880.0,873.7 L884.0,870.9 L888.0,868.1 L892.0,865.3 L896.0,862.5 L900.0,859.7 L904.0,856.9 L908.0,854.1 L912.0,851.4 L916.0,848.6 L920.0,845.8 L924.0,843.1 L928.0,840.4 L932.0,837.7 L936.0,835.0 L940.0,832.3 L944.0,829.6 L948.0,827.0 L952.0,824.3 L956.0,821.7 L960.0,819.1 L964.0,816.6 L968.0,814.0 L972.0,811.5 L976.0,809.0 L980.0,806.5 L984.0,804.1 L988.0,801.7 L992.0,799.3 L996.0,796.9 L1000.0,794.6 L1004.0,792.3 L1008.0,790.0 L1012.0,787.8 L1016.0,785.6 L1020.0,783.4 L1024.0,781.2 L1028.0,779.1 L1032.0,777.1 L1036.0,775.1 L1040.0,773.1 L1044.0,771.1 L1048.0,769.2 L1052.0,767.4 L1056.0,765.5 L1060.0,763.8 L1064.0,762.0 L1068.0,760.3 L1072.0,758.7 L1076.0,757.1 L1080.0,755.6 L1084.0,754.1 L1088.0,752.6 L1092.0,751.3 L1096.0,749.9 L1100.0,748.6 L1104.0,747.4 L1108.0,746.2 L1112.0,745.1 L1116.0,744.0 L1120.0,743.0 L1124.0,742.1 L1128.0,741.2 L1132.0,740.4 L1136.0,739.6 L1140.0,738.9 L1144.0,738.2 L1148.0,737.7 L1152.0,737.1 L1156.0,736.6 L1160.0,736.2 L1164.0,735.8 L1168.0,735.5 L1172.0,735.2 L1176.0,735.0 L1180.0,734.9 L1184.0,734.7 L1188.0,734.7 L1192.0,734.7 L1196.0,734.7 L1200.0,734.8 L1204.0,734.9 L1208.0,735.1 L1212.0,735.4 L1216.0,735.6 L1220.0,736.0 L1224.0,736.3 L1228.0,736.7 L1232.0,737.2 L1236.0,737.7 L1240.0,738.2 L1244.0,738.8 L1248.0,739.5 L1252.0,740.1 L1256.0,740.8 L1260.0,741.6 L1264.0,742.4 L1268.0,743.2 L1272.0,744.1 L1276.0,745.0 L1280.0,745.9 L1284.0,746.9 L1288.0,747.9 L1292.0,749.0 L1296.0,750.1 L1300.0,751.2 L1304.0,752.3 L1308.0,753.5 L1312.0,754.7 L1316.0,756.0 L1320.0,757.3 L1324.0,758.6 L1328.0,759.9 L1332.0,761.3 L1336.0,762.7 L1340.0,764.1 L1344.0,765.6 L1348.0,767.0 L1352.0,768.5 L1356.0,770.1 L1360.0,771.6 L1364.0,773.2 L1368.0,774.8 L1372.0,776.5 L1376.0,778.1 L1380.0,779.8 L1384.0,781.5 L1388.0,783.2 L1392.0,784.9 L1396.0,786.7 L1400.0,788.5 L1404.0,790.3 L1408.0,792.1 L1412.0,793.9 L1416.0,795.7 L1420.0,797.6 L1424.0,799.5 L1428.0,801.4 L1432.0,803.3 L1436.0,805.2 L1440.0,807.1 L1444.0,809.1 L1448.0,811.0 L1452.0,813.0 L1456.0,815.0 L1460.0,817.0 L1464.0,819.0 L1468.0,821.0 L1472.0,823.0 L1476.0,825.0 L1480.0,827.0 L1484.0,829.1 L1488.0,831.1 L1492.0,833.2 L1496.0,835.2 L1500.0,837.3 L1504.0,839.3 L1508.0,841.4 L1512.0,843.5 L1516.0,845.5 L1520.0,847.6 L1524.0,849.7 L1528.0,851.7 L1532.0,853.8 L1536.0,855.9 L1540.0,857.9 L1544.0,860.0 L1548.0,862.1 L1552.0,864.1 L1556.0,866.2 L1560.0,868.2 L1564.0,870.3 L1568.0,872.3 L1572.0,874.3 L1576.0,876.3 L1580.0,878.4 L1584.0,880.4 L1588.0,882.4 L1592.0,884.3 L1596.0,886.3 L1600.0,888.3 L1604.0,890.2 L1608.0,892.2 L1612.0,894.1 L1616.0,896.0 L1620.0,897.9 L1624.0,899.8 L1628.0,901.7 L1632.0,903.5 L1636.0,905.4 L1640.0,907.2 L1644.0,909.0 L1648.0,910.8 L1652.0,912.6 L1656.0,914.3 L1660.0,916.0 L1664.0,917.7 L1668.0,919.4 L1672.0,921.1 L1676.0,922.7 L1680.0,924.4 L1684.0,926.0 L1688.0,927.5 L1692.0,929.1 L1696.0,930.6 L1700.0,932.1 L1704.0,933.6 L1708.0,935.0 L1710.7,936.0" stroke="#0000ff" stroke-dasharray="22.5 38.45"/>
<path d="M532.0,1284.0 L536.0,1283.6 L540.0,1283.2 L544.0,1282.8 L548.0,1282.4 L552.0,1282.0 L556.0,1281.6 L560.0,1281.2 L564.0,1280.8 L568.0,1280.4 L572.0,1279.9 L576.0,1279.5 L580.0,1279.0 L584.0,1278.6 L588.0,1278.1 L592.0,1277.6 L596.0,1277.2 L600.0,1276.7 L604.0,1276.2 L608.0,1275.7 L612.0,1275.2 L616.0,1274.7 L620.0,1274.2 L624.0,1273.6 L628.0,1273.1 L632.0,1272.6 L636.0,1272.0 L640.0,1271.5 L644.0,1270.9 L648.0,1270.3 L652.0,1269.7 L656.0,1269.2 L660.0,1268.6 L664.0,1268.0 L668.0,1267.3 L672.0,1266.7 L676.0,1266.1 L680.0,1265.5 L684.0,1264.8 L688.0,1264.2 L692.0,1263.5 L696.0,1262.8 L700.0,1262.2 L704.0,1261.5 L708.0,1260.8 L712.0,1260.1 L716.0,1259.4 L720.0,1258.7 L724.0,1257.9 L728.0,1257.2 L732.0,1256.5 L736.0,1255.7 L740.0,1254.9 L744.0,1254.2 L748.0,1253.4 L752.0,1252.6 L756.0,1251.8 L760.0,1251.0 L764.0,1250.2 L768.0,1249.4 L772.0,1248.5 L776.0,1247.7 L780.0,1246.8 L784.0,1246.0 L788.0,1245.1 L792.0,1244.2 L796.0,1243.4 L800.0,1242.5 L804.0,1241.6 L808.0,1240.6 L812.0,1239.7 L816.0,1238.8 L820.0,1237.8 L824.0,1236.9 L828.0,1235.9 L832.0,1234.9 L836.0,1234.0 L840.0,1233.0 L844.0,1232.0 L848.0,1231.0 L852.0,1229.9 L856.0,1228.9 L860.0,1227.9 L864.0,1226.8 L868.0,1225.8 L872.0,1224.7 L876.0,1223.6 L880.0,1222.5 L884.0,1221.5 L888.0,1220.4 L892.0,1219.3 L896.0,1218.2 L900.0,1217.1 L904.0,1215.9 L908.0,1214.8 L912.0,1213.7 L916.0,1212.6 L920.0,1211.4 L924.0,1210.3 L928.0,1209.1 L932.0,1208.0 L936.0,1206.9 L940.0,1205.7 L944.0,1204.5 L948.0,1203.4 L952.0,1202.2 L956.0,1201.1 L960.0,1199.9 L964.0,1198.8 L968.0,1197.6 L972.0,1196.4 L976.0,1195.3 L980.0,1194.1 L984.0,1193.0 L988.0,1191.8 L992.0,1190.7 L996.0,1189.5 L1000.0,1188.4 L1004.0,1187.2 L1008.0,1186.1 L1012.0,1184.9 L1016.0,1183.8 L1020.0,1182.7 L1024.0,1181.5 L1028.0,1180.4 L1032.0,1179.3 L1036.0,1178.2 L1040.0,1177.1 L1044.0,1176.0 L1048.0,1174.9 L1052.0,1173.8 L1056.0,1172.7 L1060.0,1171.6 L1064.0,1170.5 L1068.0,1169.5 L1072.0,1168.4 L1076.0,1167.4 L1080.0,1166.3 L1084.0,1165.3 L1088.0,1164.3 L1092.0,1163.3 L1096.0,1162.3 L1100.0,1161.3 L1104.0,1160.3 L1108.0,1159.4 L1112.0,1158.4 L1116.0,1157.5 L1120.0,1156.5 L1124.0,1155.6 L1128.0,1154.7 L1132.0,1153.8 L1136.0,1152.9 L1140.0,1152.1 L1144.0,1151.2 L1148.0,1150.4 L1152.0,1149.6 L1156.0,1148.7 L1160.0,1147.9 L1164.0,1147.2 L1168.0,1146.4 L1172.0,1145.6 L1176.0,1144.9 L1180.0,1144.2 L1184.0,1143.5 L1188.0,1142.8 L1192.0,1142.1 L1196.0,1141.5 L1200.0,1140.8 L1204.0,1140.2 L1208.0,1139.6 L1212.0,1139.0 L1216.0,1138.5 L1220.0,1137.9 L1224.0,1137.4 L1228.0,1136.9 L1232.0,1136.4 L1236.0,1135.9 L1240.0,1135.4 L1244.0,1135.0 L1248.0,1134.6 L1252.0,1134.2 L1256.0,1133.8 L1260.0,1133.4 L1264.0,1133.1 L1268.0,1132.8 L1272.0,1132.5 L1276.0,1132.2 L1280.0,1132.0 L1284.0,1131.7 L1288.0,1131.5 L1292.0,1131.3 L1296.0,1131.2 L1300.0,1131.0 L1304.0,1130.9 L1308.0,1130.8 L1312.0,1130.7 L1316.0,1130.6 L1320.0,1130.6 L1324.0,1130.6 L1328.0,1130.6 L1332.0,1130.7 L1336.0,1130.7 L1340.0,1130.8 L1344.0,1130.9 L1348.0,1131.0 L1352.0,1131.2 L1356.0,1131.4 L1360.0,1131.6 L1364.0,1131.8 L1368.0,1132.0 L1372.0,1132.3 L1376.0,1132.5 L1380.0,1132.8 L1384.0,1133.2 L1388.0,1133.5 L1392.0,1133.9 L1396.0,1134.2 L1400.0,1134.6 L1404.0,1135.0 L1408.0,1135.5 L1412.0,1135.9 L1416.0,1136.4 L1420.0,1136.9 L1424.0,1137.4 L1428.0,1137.9 L1432.0,1138.5 L1436.0,1139.0 L1440.0,1139.6 L1444.0,1140.2 L1448.0,1140.8 L1452.0,1141.4 L1456.0,1142.1 L1460.0,1142.8 L1464.0,1143.4 L1468.0,1144.1 L1472.0,1144.8 L1476.0,1145.5 L1480.0,1146.3 L1484.0,1147.0 L1488.0,1147.8 L1492.0,1148.5 L1496.0,1149.3 L1500.0,1150.1 L1504.0,1150.9 L1508.0,1151.7 L1512.0,1152.5 L1516.0,1153.3 L1520.0,1154.2 L1524.0,1155.0 L1528.0,1155.9 L1532.0,1156.8 L1536.0,1157.6 L1540.0,1158.5 L1544.0,1159.4 L1548.0,1160.3 L1552.0,1161.2 L1556.0,1162.1 L1560.0,1163.0 L1564.0,1163.9 L1568.0,1164.8 L1572.0,1165.7 L1576.0,1166.6 L1580.0,1167.6 L1584.0,1168.5 L1588.0,1169.4 L1592.0,1170.3 L1596.0,1171.3 L1600.0,1172.2 L1604.0,1173.1 L1608.0,1174.0 L1612.0,1175.0 L1616.0,1175.9 L1620.0,1176.8 L1624.0,1177.8 L1628.0,1178.7 L1632.0,1179.6 L1636.0,1180.5 L1640.0,1181.4 L1644.0,1182.3 L1648.0,1183.2 L1652.0,1184.1 L1656.0,1185.0 L1660.0,1185.9 L1664.0,1186.8 L1668.0,1187.7 L1672.0,1188.5 L1676.0,1189.4 L1680.0,1190.3 L1684.0,1191.1 L1688.0,1191.9 L1692.0,1192.8 L1696.0,1193.6 L1700.0,1194.4 L1704.0,1195.2 L1708.0,1196.0 L1710.7,1196.5" stroke="#ff4040" stroke-dasharray="22.5 38.45"/>
<path d="M532.0,1336.7 L536.0,1336.6 L540.0,1336.5 L544.0,1336.5 L548.0,1336.4 L552.0,1336.3 L556.0,1336.2 L560.0,1336.1 L564.0,1336.1 L568.0,1336.0 L572.0,1335.9 L576.0,1335.8 L580.0,1335.7 L584.0,1335.6 L588.0,1335.5 L592.0,1335.4 L596.0,1335.3 L600.0,1335.2 L604.0,1335.0 L608.0,1334.9 L612.0,1334.8 L616.0,1334.7 L620.0,1334.5 L624.0,1334.4 L628.0,1334.3 L632.0,1334.1 L636.0,1334.0 L640.0,1333.8 L644.0,1333.7 L648.0,1333.5 L652.0,1333.4 L656.0,1333.2 L660.0,1333.0 L664.0,1332.9 L668.0,1332.7 L672.0,1332.5 L676.0,1332.3 L680.0,1332.2 L684.0,1332.0 L688.0,1331.8 L692.0,1331.6 L696.0,1331.4 L700.0,1331.2 L704.0,1331.0 L708.0,1330.8 L712.0,1330.6 L716.0,1330.4 L720.0,1330.2 L724.0,1329.9 L728.0,1329.7 L732.0,1329.5 L736.0,1329.3 L740.0,1329.0 L744.0,1328.8 L748.0,1328.5 L752.0,1328.3 L756.0,1328.0 L760.0,1327.8 L764.0,1327.5 L768.0,1327.3 L772.0,1327.0 L776.0,1326.7 L780.0,1326.5 L784.0,1326.2 L788.0,1325.9 L792.0,1325.6 L796.0,1325.3 L800.0,1325.0 L804.0,1324.7 L808.0,1324.4 L812.0,1324.1 L816.0,1323.8 L820.0,1323.5 L824.0,1323.2 L828.0,1322.9 L832.0,1322.6 L836.0,1322.2 L840.0,1321.9 L844.0,1321.6 L848.0,1321.2 L852.0,1320.9 L856.0,1320.5 L860.0,1320.2 L864.0,1319.8 L868.0,1319.5 L872.0,1319.1 L876.0,1318.8 L880.0,1318.4 L884.0,1318.0 L888.0,1317.6 L892.0,1317.3 L896.0,1316.9 L900.0,1316.5 L904.0,1316.1 L908.0,1315.7 L912.0,1315.3 L916.0,1314.9 L920.0,1314.6 L924.0,1314.2 L928.0,1313.8 L932.0,1313.4 L936.0,1313.0 L940.0,1312.6 L944.0,1312.1 L948.0,1311.7 L952.0,1311.3 L956.0,1310.9 L960.0,1310.5 L964.0,1310.1 L968.0,1309.7 L972.0,1309.3 L976.0,1308.9 L980.0,1308.4 L984.0,1308.0 L988.0,1307.6 L992.0,1307.2 L996.0,1306.8 L1000.0,1306.4 L1004.0,1305.9 L1008.0,1305.5 L1012.0,1305.1 L1016.0,1304.7 L1020.0,1304.3 L1024.0,1303.9 L1028.0,1303.5 L1032.0,1303.0 L1036.0,1302.6 L1040.0,1302.2 L1044.0,1301.8 L1048.0,1301.4 L1052.0,1301.0 L1056.0,1300.6 L1060.0,1300.2 L1064.0,1299.8 L1068.0,1299.4 L1072.0,1299.0 L1076.0,1298.6 L1080.0,1298.2 L1084.0,1297.8 L1088.0,1297.4 L1092.0,1297.0 L1096.0,1296.6 L1100.0,1296.2 L1104.0,1295.8 L1108.0,1295.5 L1112.0,1295.1 L1116.0,1294.7 L1120.0,1294.3 L1124.0,1294.0 L1128.0,1293.6 L1132.0,1293.3 L1136.0,1292.9 L1140.0,1292.5 L1144.0,1292.2 L1148.0,1291.8 L1152.0,1291.5 L1156.0,1291.2 L1160.0,1290.8 L1164.0,1290.5 L1168.0,1290.2 L1172.0,1289.9 L1176.0,1289.5 L1180.0,1289.2 L1184.0,1288.9 L1188.0,1288.6 L1192.0,1288.3 L1196.0,1288.0 L1200.0,1287.7 L1204.0,1287.4 L1208.0,1287.2 L1212.0,1286.9 L1216.0,1286.6 L1220.0,1286.3 L1224.0,1286.1 L1228.0,1285.8 L1232.0,1285.6 L1236.0,1285.3 L1240.0,1285.1 L1244.0,1284.8 L1248.0,1284.6 L1252.0,1284.4 L1256.0,1284.2 L1260.0,1283.9 L1264.0,1283.7 L1268.0,1283.5 L1272.0,1283.3 L1276.0,1283.1 L1280.0,1282.9 L1284.0,1282.7 L1288.0,1282.6 L1292.0,1282.4 L1296.0,1282.2 L1300.0,1282.1 L1304.0,1281.9 L1308.0,1281.8 L1312.0,1281.6 L1316.0,1281.5 L1320.0,1281.4 L1324.0,1281.2 L1328.0,1281.1 L1332.0,1281.0 L1336.0,1280.9 L1340.0,1280.8 L1344.0,1280.7 L1348.0,1280.6 L1352.0,1280.5 L1356.0,1280.5 L1360.0,1280.4 L1364.0,1280.3 L1368.0,1280.3 L1372.0,1280.2 L1376.0,1280.2 L1380.0,1280.2 L1384.0,1280.1 L1388.0,1280.1 L1392.0,1280.1 L1396.0,1280.1 L1400.0,1280.1 L1404.0,1280.1 L1408.0,1280.1 L1412.0,1280.2 L1416.0,1280.2 L1420.0,1280.2 L1424.0,1280.3 L1428.0,1280.3 L1432.0,1280.4 L1436.0,1280.5 L1440.0,1280.5 L1444.0,1280.6 L1448.0,1280.7 L1452.0,1280.8 L1456.0,1280.9 L1460.0,1281.0 L1464.0,1281.2 L1468.0,1281.3 L1472.0,1281.4 L1476.0,1281.6 L1480.0,1281.7 L1484.0,1281.9 L1488.0,1282.0 L1492.0,1282.2 L1496.0,1282.4 L1500.0,1282.6 L1504.0,1282.8 L1508.0,1283.0 L1512.0,1283.2 L1516.0,1283.4 L1520.0,1283.6 L1524.0,1283.9 L1528.0,1284.1 L1532.0,1284.3 L1536.0,1284.6 L1540.0,1284.9 L1544.0,1285.1 L1548.0,1285.4 L1552.0,1285.6 L1556.0,1285.9 L1560.0,1286.2 L1564.0,1286.5 L1568.0,1286.8 L1572.0,1287.1 L1576.0,1287.4 L1580.0,1287.7 L1584.0,1288.0 L1588.0,1288.3 L1592.0,1288.7 L1596.0,1289.0 L1600.0,1289.3 L1604.0,1289.7 L1608.0,1290.0 L1612.0,1290.4 L1616.0,1290.7 L1620.0,1291.1 L1624.0,1291.4 L1628.0,1291.8 L1632.0,1292.2 L1636.0,1292.6 L1640.0,1292.9 L1644.0,1293.3 L1648.0,1293.7 L1652.0,1294.1 L1656.0,1294.5 L1660.0,1294.9 L1664.0,1295.3 L1668.0,1295.7 L1672.0,1296.1 L1676.0,1296.5 L1680.0,1296.9 L1684.0,1297.3 L1688.0,1297.7 L1692.0,1298.2 L1696.0,1298.6 L1700.0,1299.0 L1704.0,1299.4 L1708.0,1299.9 L1710.7,1300.2" stroke="#000000" stroke-dasharray="22.5 38.45"/>
<path d="M532.0,1353.3 L536.0,1353.3 L540.0,1353.3 L544.0,1353.3 L548.0,1353.3 L552.0,1353.3 L556.0,1353.3 L560.0,1353.4 L564.0,1353.4 L568.0,1353.4 L572.0,1353.4 L576.0,1353.4 L580.0,1353.4 L584.0,1353.4 L588.0,1353.4 L592.0,1353.3 L596.0,1353.3 L600.0,1353.3 L604.0,1353.3 L608.0,1353.3 L612.0,1353.3 L616.0,1353.2 L620.0,1353.2 L624.0,1353.2 L628.0,1353.2 L632.0,1353.2 L636.0,1353.1 L640.0,1353.1 L644.0,1353.1 L648.0,1353.0 L652.0,1353.0 L656.0,1352.9 L660.0,1352.9 L664.0,1352.9 L668.0,1352.8 L672.0,1352.8 L676.0,1352.7 L680.0,1352.7 L684.0,1352.6 L688.0,1352.6 L692.0,1352.5 L696.0,1352.5 L700.0,1352.4 L704.0,1352.4 L708.0,1352.3 L712.0,1352.3 L716.0,1352.2 L720.0,1352.1 L724.0,1352.1 L728.0,1352.0 L732.0,1351.9 L736.0,1351.9 L740.0,1351.8 L744.0,1351.7 L748.0,1351.7 L752.0,1351.6 L756.0,1351.5 L760.0,1351.4 L764.0,1351.4 L768.0,1351.3 L772.0,1351.2 L776.0,1351.1 L780.0,1351.1 L784.0,1351.0 L788.0,1350.9 L792.0,1350.8 L796.0,1350.7 L800.0,1350.6 L804.0,1350.5 L808.0,1350.5 L812.0,1350.4 L816.0,1350.3 L820.0,1350.2 L824.0,1350.1 L828.0,1350.0 L832.0,1349.9 L836.0,1349.8 L840.0,1349.7 L844.0,1349.6 L848.0,1349.5 L852.0,1349.4 L856.0,1349.3 L860.0,1349.2 L864.0,1349.1 L868.0,1349.0 L872.0,1348.9 L876.0,1348.8 L880.0,1348.7 L884.0,1348.6 L888.0,1348.5 L892.0,1348.4 L896.0,1348.3 L900.0,1348.2 L904.0,1348.1 L908.0,1348.0 L912.0,1347.9 L916.0,1347.8 L920.0,1347.7 L924.0,1347.6 L928.0,1347.5 L932.0,1347.4 L936.0,1347.3 L940.0,1347.1 L944.0,1347.0 L948.0,1346.9 L952.0,1346.8 L956.0,1346.7 L960.0,1346.6 L964.0,1346.5 L968.0,1346.4 L972.0,1346.3 L976.0,1346.2 L980.0,1346.0 L984.0,1345.9 L988.0,1345.8 L992.0,1345.7 L996.0,1345.6 L1000.0,1345.5 L1004.0,1345.4 L1008.0,1345.3 L1012.0,1345.1 L1016.0,1345.0 L1020.0,1344.9 L1024.0,1344.8 L1028.0,1344.7 L1032.0,1344.6 L1036.0,1344.5 L1040.0,1344.4 L1044.0,1344.2 L1048.0,1344.1 L1052.0,1344.0 L1056.0,1343.9 L1060.0,1343.8 L1064.0,1343.7 L1068.0,1343.6 L1072.0,1343.5 L1076.0,1343.3 L1080.0,1343.2 L1084.0,1343.1 L1088.0,1343.0 L1092.0,1342.9 L1096.0,1342.8 L1100.0,1342.7 L1104.0,1342.6 L1108.0,1342.5 L1112.0,1342.4 L1116.0,1342.3 L1120.0,1342.2 L1124.0,1342.0 L1128.0,1341.9 L1132.0,1341.8 L1136.0,1341.7 L1140.0,1341.6 L1144.0,1341.5 L1148.0,1341.4 L1152.0,1341.3 L1156.0,1341.2 L1160.0,1341.1 L1164.0,1341.0 L1168.0,1340.9 L1172.0,1340.8 L1176.0,1340.7 L1180.0,1340.6 L1184.0,1340.5 L1188.0,1340.4 L1192.0,1340.3 L1196.0,1340.2 L1200.0,1340.2 L1204.0,1340.1 L1208.0,1340.0 L1212.0,1339.9 L1216.0,1339.8 L1220.0,1339.7 L1224.0,1339.6 L1228.0,1339.5 L1232.0,1339.4 L1236.0,1339.4 L1240.0,1339.3 L1244.0,1339.2 L1248.0,1339.1 L1252.0,1339.0 L1256.0,1338.9 L1260.0,1338.9 L1264.0,1338.8 L1268.0,1338.7 L1272.0,1338.6 L1276.0,1338.6 L1280.0,1338.5 L1284.0,1338.4 L1288.0,1338.3 L1292.0,1338.3 L1296.0,1338.2 L1300.0,1338.1 L1304.0,1338.1 L1308.0,1338.0 L1312.0,1338.0 L1316.0,1337.9 L1320.0,1337.8 L1324.0,1337.8 L1328.0,1337.7 L1332.0,1337.7 L1336.0,1337.6 L1340.0,1337.6 L1344.0,1337.5 L1348.0,1337.5 L1352.0,1337.4 L1356.0,1337.4 L1360.0,1337.3 L1364.0,1337.3 L1368.0,1337.2 L1372.0,1337.2 L1376.0,1337.2 L1380.0,1337.1 L1384.0,1337.1 L1388.0,1337.0 L1392.0,1337.0 L1396.0,1337.0 L1400.0,1337.0 L1404.0,1336.9 L1408.0,1336.9 L1412.0,1336.9 L1416.0,1336.9 L1420.0,1336.8 L1424.0,1336.8 L1428.0,1336.8 L1432.0,1336.8 L1436.0,1336.8 L1440.0,1336.8 L1444.0,1336.8 L1448.0,1336.8 L1452.0,1336.8 L1456.0,1336.8 L1460.0,1336.8 L1464.0,1336.8 L1468.0,1336.8 L1472.0,1336.8 L1476.0,1336.8 L1480.0,1336.8 L1484.0,1336.8 L1488.0,1336.8 L1492.0,1336.8 L1496.0,1336.9 L1500.0,1336.9 L1504.0,1336.9 L1508.0,1336.9 L1512.0,1337.0 L1516.0,1337.0 L1520.0,1337.0 L1524.0,1337.1 L1528.0,1337.1 L1532.0,1337.1 L1536.0,1337.2 L1540.0,1337.2 L1544.0,1337.3 L1548.0,1337.3 L1552.0,1337.4 L1556.0,1337.4 L1560.0,1337.5 L1564.0,1337.5 L1568.0,1337.6 L1572.0,1337.7 L1576.0,1337.7 L1580.0,1337.8 L1584.0,1337.9 L1588.0,1338.0 L1592.0,1338.0 L1596.0,1338.1 L1600.0,1338.2 L1604.0,1338.3 L1608.0,1338.4 L1612.0,1338.5 L1616.0,1338.6 L1620.0,1338.7 L1624.0,1338.8 L1628.0,1338.9 L1632.0,1339.0 L1636.0,1339.1 L1640.0,1339.2 L1644.0,1339.3 L1648.0,1339.4 L1652.0,1339.5 L1656.0,1339.7 L1660.0,1339.8 L1664.0,1339.9 L1668.0,1340.0 L1672.0,1340.2 L1676.0,1340.3 L1680.0,1340.5 L1684.0,1340.6 L1688.0,1340.7 L1692.0,1340.9 L1696.0,1341.0 L1700.0,1341.2 L1704.0,1341.4 L1708.0,1341.5 L1710.7,1341.6" stroke="#00ff00" stroke-dasharray="22.5 38.45"/>
<path d="M532.0,1358.6 L536.0,1358.7 L540.0,1358.7 L544.0,1358.7 L548.0,1358.7 L552.0,1358.8 L556.0,1358.8 L560.0,1358.8 L564.0,1358.9 L568.0,1358.9 L572.0,1358.9 L576.0,1358.9 L580.0,1359.0 L584.0,1359.0 L588.0,1359.0 L592.0,1359.0 L596.0,1359.1 L600.0,1359.1 L604.0,1359.1 L608.0,1359.1 L612.0,1359.1 L616.0,1359.2 L620.0,1359.2 L624.0,1359.2 L628.0,1359.2 L632.0,1359.2 L636.0,1359.2 L640.0,1359.3 L644.0,1359.3 L648.0,1359.3 L652.0,1359.3 L656.0,1359.3 L660.0,1359.3 L664.0,1359.3 L668.0,1359.3 L672.0,1359.4 L676.0,1359.4 L680.0,1359.4 L684.0,1359.4 L688.0,1359.4 L692.0,1359.4 L696.0,1359.4 L700.0,1359.4 L704.0,1359.4 L708.0,1359.4 L712.0,1359.4 L716.0,1359.4 L720.0,1359.4 L724.0,1359.4 L728.0,1359.4 L732.0,1359.4 L736.0,1359.4 L740.0,1359.4 L744.0,1359.4 L748.0,1359.4 L752.0,1359.4 L756.0,1359.4 L760.0,1359.4 L764.0,1359.4 L768.0,1359.4 L772.0,1359.4 L776.0,1359.4 L780.0,1359.4 L784.0,1359.4 L788.0,1359.4 L792.0,1359.4 L796.0,1359.4 L800.0,1359.4 L804.0,1359.4 L808.0,1359.4 L812.0,1359.4 L816.0,1359.4 L820.0,1359.4 L824.0,1359.4 L828.0,1359.3 L832.0,1359.3 L836.0,1359.3 L840.0,1359.3 L844.0,1359.3 L848.0,1359.3 L852.0,1359.3 L856.0,1359.3 L860.0,1359.3 L864.0,1359.3 L868.0,1359.2 L872.0,1359.2 L876.0,1359.2 L880.0,1359.2 L884.0,1359.2 L888.0,1359.2 L892.0,1359.2 L896.0,1359.1 L900.0,1359.1 L904.0,1359.1 L908.0,1359.1 L912.0,1359.1 L916.0,1359.1 L920.0,1359.0 L924.0,1359.0 L928.0,1359.0 L932.0,1359.0 L936.0,1359.0 L940.0,1359.0 L944.0,1358.9 L948.0,1358.9 L952.0,1358.9 L956.0,1358.9 L960.0,1358.9 L964.0,1358.8 L968.0,1358.8 L972.0,1358.8 L976.0,1358.8 L980.0,1358.8 L984.0,1358.7 L988.0,1358.7 L992.0,1358.7 L996.0,1358.7 L1000.0,1358.7 L1004.0,1358.6 L1008.0,1358.6 L1012.0,1358.6 L1016.0,1358.6 L1020.0,1358.6 L1024.0,1358.5 L1028.0,1358.5 L1032.0,1358.5 L1036.0,1358.5 L1040.0,1358.4 L1044.0,1358.4 L1048.0,1358.4 L1052.0,1358.4 L1056.0,1358.4 L1060.0,1358.3 L1064.0,1358.3 L1068.0,1358.3 L1072.0,1358.3 L1076.0,1358.2 L1080.0,1358.2 L1084.0,1358.2 L1088.0,1358.2 L1092.0,1358.1 L1096.0,1358.1 L1100.0,1358.1 L1104.0,1358.1 L1108.0,1358.0 L1112.0,1358.0 L1116.0,1358.0 L1120.0,1358.0 L1124.0,1357.9 L1128.0,1357.9 L1132.0,1357.9 L1136.0,1357.9 L1140.0,1357.8 L1144.0,1357.8 L1148.0,1357.8 L1152.0,1357.8 L1156.0,1357.7 L1160.0,1357.7 L1164.0,1357.7 L1168.0,1357.7 L1172.0,1357.6 L1176.0,1357.6 L1180.0,1357.6 L1184.0,1357.6 L1188.0,1357.6 L1192.0,1357.5 L1196.0,1357.5 L1200.0,1357.5 L1204.0,1357.5 L1208.0,1357.4 L1212.0,1357.4 L1216.0,1357.4 L1220.0,1357.4 L1224.0,1357.3 L1228.0,1357.3 L1232.0,1357.3 L1236.0,1357.3 L1240.0,1357.2 L1244.0,1357.2 L1248.0,1357.2 L1252.0,1357.2 L1256.0,1357.1 L1260.0,1357.1 L1264.0,1357.1 L1268.0,1357.1 L1272.0,1357.1 L1276.0,1357.0 L1280.0,1357.0 L1284.0,1357.0 L1288.0,1357.0 L1292.0,1356.9 L1296.0,1356.9 L1300.0,1356.9 L1304.0,1356.9 L1308.0,1356.9 L1312.0,1356.8 L1316.0,1356.8 L1320.0,1356.8 L1324.0,1356.8 L1328.0,1356.8 L1332.0,1356.7 L1336.0,1356.7 L1340.0,1356.7 L1344.0,1356.7 L1348.0,1356.7 L1352.0,1356.6 L1356.0,1356.6 L1360.0,1356.6 L1364.0,1356.6 L1368.0,1356.6 L1372.0,1356.6 L1376.0,1356.5 L1380.0,1356.5 L1384.0,1356.5 L1388.0,1356.5 L1392.0,1356.5 L1396.0,1356.5 L1400.0,1356.4 L1404.0,1356.4 L1408.0,1356.4 L1412.0,1356.4 L1416.0,1356.4 L1420.0,1356.4 L1424.0,1356.4 L1428.0,1356.3 L1432.0,1356.3 L1436.0,1356.3 L1440.0,1356.3 L1444.0,1356.3 L1448.0,1356.3 L1452.0,1356.3 L1456.0,1356.3 L1460.0,1356.3 L1464.0,1356.2 L1468.0,1356.2 L1472.0,1356.2 L1476.0,1356.2 L1480.0,1356.2 L1484.0,1356.2 L1488.0,1356.2 L1492.0,1356.2 L1496.0,1356.2 L1500.0,1356.2 L1504.0,1356.2 L1508.0,1356.2 L1512.0,1356.2 L1516.0,1356.1 L1520.0,1356.1 L1524.0,1356.1 L1528.0,1356.1 L1532.0,1356.1 L1536.0,1356.1 L1540.0,1356.1 L1544.0,1356.1 L1548.0,1356.1 L1552.0,1356.1 L1556.0,1356.1 L1560.0,1356.1 L1564.0,1356.1 L1568.0,1356.1 L1572.0,1356.1 L1576.0,1356.1 L1580.0,1356.1 L1584.0,1356.1 L1588.0,1356.1 L1592.0,1356.1 L1596.0,1356.2 L1600.0,1356.2 L1604.0,1356.2 L1608.0,1356.2 L1612.0,1356.2 L1616.0,1356.2 L1620.0,1356.2 L1624.0,1356.2 L1628.0,1356.2 L1632.0,1356.2 L1636.0,1356.2 L1640.0,1356.2 L1644.0,1356.3 L1648.0,1356.3 L1652.0,1356.3 L1656.0,1356.3 L1660.0,1356.3 L1664.0,1356.3 L1668.0,1356.3 L1672.0,1356.4 L1676.0,1356.4 L1680.0,1356.4 L1684.0,1356.4 L1688.0,1356.4 L1692.0,1356.5 L1696.0,1356.5 L1700.0,1356.5 L1704.0,1356.5 L1708.0,1356.5 L1710.7,1356.6" stroke="#ff00ff" stroke-dasharray="22.5 38.45"/>
<path d="M532.0,1361.0 L536.0,1361.0 L540.0,1361.0 L544.0,1361.0 L548.0,1361.0 L552.0,1361.0 L556.0,1361.0 L560.0,1361.0 L564.0,1361.0 L568.0,1361.0 L572.0,1361.0 L576.0,1361.0 L580.0,1361.0 L584.0,1361.0 L588.0,1361.0 L592.0,1361.0 L596.0,1361.0 L600.0,1361.0 L604.0,1361.0 L608.0,1361.0 L612.0,1361.0 L616.0,1360.9 L620.0,1360.9 L624.0,1360.9 L628.0,1360.9 L632.0,1360.9 L636.0,1360.9 L640.0,1360.9 L644.0,1360.9 L648.0,1360.9 L652.0,1360.9 L656.0,1360.9 L660.0,1360.9 L664.0,1360.9 L668.0,1360.9 L672.0,1360.9 L676.0,1360.9 L680.0,1360.9 L684.0,1360.9 L688.0,1360.9 L692.0,1360.9 L696.0,1360.9 L700.0,1360.9 L704.0,1360.9 L708.0,1360.9 L712.0,1360.9 L716.0,1360.9 L720.0,1360.9 L724.0,1360.9 L728.0,1360.9 L732.0,1360.9 L736.0,1360.9 L740.0,1360.9 L744.0,1360.9 L748.0,1360.9 L752.0,1360.9 L756.0,1360.9 L760.0,1360.9 L764.0,1360.9 L768.0,1360.9 L772.0,1360.9 L776.0,1360.9 L780.0,1360.9 L784.0,1360.9 L788.0,1360.9 L792.0,1360.9 L796.0,1360.9 L800.0,1360.9 L804.0,1360.9 L808.0,1360.9 L812.0,1360.8 L816.0,1360.8 L820.0,1360.8 L824.0,1360.8 L828.0,1360.8 L832.0,1360.8 L836.0,1360.8 L840.0,1360.8 L844.0,1360.8 L848.0,1360.8 L852.0,1360.8 L856.0,1360.8 L860.0,1360.8 L864.0,1360.8 L868.0,1360.8 L872.0,1360.8 L876.0,1360.8 L880.0,1360.8 L884.0,1360.8 L888.0,1360.8 L892.0,1360.8 L896.0,1360.8 L900.0,1360.8 L904.0,1360.8 L908.0,1360.8 L912.0,1360.8 L916.0,1360.8 L920.0,1360.8 L924.0,1360.8 L928.0,1360.8 L932.0,1360.8 L936.0,1360.8 L940.0,1360.8 L944.0,1360.8 L948.0,1360.8 L952.0,1360.8 L956.0,1360.8 L960.0,1360.8 L964.0,1360.8 L968.0,1360.8 L972.0,1360.8 L976.0,1360.8 L980.0,1360.8 L984.0,1360.8 L988.0,1360.8 L992.0,1360.8 L996.0,1360.8 L1000.0,1360.8 L1004.0,1360.8 L1008.0,1360.8 L1012.0,1360.8 L1016.0,1360.8 L1020.0,1360.8 L1024.0,1360.8 L1028.0,1360.8 L1032.0,1360.8 L1036.0,1360.8 L1040.0,1360.8 L1044.0,1360.8 L1048.0,1360.8 L1052.0,1360.8 L1056.0,1360.8 L1060.0,1360.8 L1064.0,1360.8 L1068.0,1360.8 L1072.0,1360.8 L1076.0,1360.8 L1080.0,1360.8 L1084.0,1360.7 L1088.0,1360.7 L1092.0,1360.7 L1096.0,1360.7 L1100.0,1360.7 L1104.0,1360.7 L1108.0,1360.7 L1112.0,1360.7 L1116.0,1360.7 L1120.0,1360.7 L1124.0,1360.7 L1128.0,1360.7 L1132.0,1360.7 L1136.0,1360.7 L1140.0,1360.7 L1144.0,1360.7 L1148.0,1360.7 L1152.0,1360.7 L1156.0,1360.7 L1160.0,1360.7 L1164.0,1360.7 L1168.0,1360.7 L1172.0,1360.7 L1176.0,1360.7 L1180.0,1360.7 L1184.0,1360.7 L1188.0,1360.7 L1192.0,1360.7 L1196.0,1360.7 L1200.0,1360.7 L1204.0,1360.7 L1208.0,1360.7 L1212.0,1360.7 L1216.0,1360.7 L1220.0,1360.7 L1224.0,1360.7 L1228.0,1360.7 L1232.0,1360.7 L1236.0,1360.7 L1240.0,1360.7 L1244.0,1360.7 L1248.0,1360.7 L1252.0,1360.7 L1256.0,1360.7 L1260.0,1360.7 L1264.0,1360.7 L1268.0,1360.7 L1272.0,1360.7 L1276.0,1360.7 L1280.0,1360.7 L1284.0,1360.7 L1288.0,1360.7 L1292.0,1360.7 L1296.0,1360.7 L1300.0,1360.7 L1304.0,1360.7 L1308.0,1360.7 L1312.0,1360.7 L1316.0,1360.7 L1320.0,1360.7 L1324.0,1360.7 L1328.0,1360.7 L1332.0,1360.7 L1336.0,1360.7 L1340.0,1360.7 L1344.0,1360.7 L1348.0,1360.7 L1352.0,1360.7 L1356.0,1360.7 L1360.0,1360.7 L1364.0,1360.7 L1368.0,1360.7 L1372.0,1360.7 L1376.0,1360.7 L1380.0,1360.7 L1384.0,1360.7 L1388.0,1360.7 L1392.0,1360.7 L1396.0,1360.7 L1400.0,1360.7 L1404.0,1360.7 L1408.0,1360.7 L1412.0,1360.7 L1416.0,1360.7 L1420.0,1360.7 L1424.0,1360.7 L1428.0,1360.7 L1432.0,1360.7 L1436.0,1360.7 L1440.0,1360.7 L1444.0,1360.7 L1448.0,1360.7 L1452.0,1360.7 L1456.0,1360.7 L1460.0,1360.7 L1464.0,1360.7 L1468.0,1360.7 L1472.0,1360.7 L1476.0,1360.7 L1480.0,1360.7 L1484.0,1360.7 L1488.0,1360.7 L1492.0,1360.7 L1496.0,1360.7 L1500.0,1360.7 L1504.0,1360.7 L1508.0,1360.7 L1512.0,1360.7 L1516.0,1360.7 L1520.0,1360.7 L1524.0,1360.7 L1528.0,1360.7 L1532.0,1360.7 L1536.0,1360.7 L1540.0,1360.7 L1544.0,1360.7 L1548.0,1360.7 L1552.0,1360.7 L1556.0,1360.7 L1560.0,1360.7 L1564.0,1360.7 L1568.0,1360.7 L1572.0,1360.7 L1576.0,1360.7 L1580.0,1360.7 L1584.0,1360.7 L1588.0,1360.7 L1592.0,1360.7 L1596.0,1360.7 L1600.0,1360.7 L1604.0,1360.7 L1608.0,1360.7 L1612.0,1360.7 L1616.0,1360.7 L1620.0,1360.7 L1624.0,1360.7 L1628.0,1360.7 L1632.0,1360.7 L1636.0,1360.7 L1640.0,1360.7 L1644.0,1360.7 L1648.0,1360.7 L1652.0,1360.7 L1656.0,1360.7 L1660.0,1360.7 L1664.0,1360.7 L1668.0,1360.7 L1672.0,1360.7 L1676.0,1360.7 L1680.0,1360.7 L1684.0,1360.7 L1688.0,1360.7 L1692.0,1360.7 L1696.0,1360.7 L1700.0,1360.7 L1704.0,1360.7 L1708.0,1360.7 L1710.7,1360.7" stroke="#00ffff" stroke-dasharray="22.5 38.45"/>
</g>
<g fill="none" stroke-width="15">
<line x1="1654.5" y1="279.6" x2="1798.4" y2="279.6" stroke="#0000ff" stroke-linecap="round" stroke-dasharray="22.5 38.45"/>
<line x1="1654.5" y1="367.6" x2="1798.4" y2="367.6" stroke="#ff4040" stroke-linecap="round" stroke-dasharray="22.5 38.45"/>
<line x1="1654.5" y1="455.5" x2="1798.4" y2="455.5" stroke="#000000" stroke-linecap="round" stroke-dasharray="22.5 38.45"/>
<line x1="1654.5" y1="543.5" x2="1798.4" y2="543.5" stroke="#00ff00" stroke-linecap="round" stroke-dasharray="22.5 38.45"/>
<line x1="1654.5" y1="631.4" x2="1798.4" y2="631.4" stroke="#ff00ff" stroke-linecap="round" stroke-dasharray="22.5 38.45"/>
<line x1="1654.5" y1="719.4" x2="1798.4" y2="719.4" stroke="#00ffff" stroke-linecap="round" stroke-dasharray="22.5 38.45"/>
<line x1="1654.5" y1="807.3" x2="1830" y2="807.3" stroke="#0000ff" stroke-linecap="butt"/>
<circle cx="1654.5" cy="807.3" r="7.5" fill="#0000ff" stroke="none"/>
<line x1="1654.5" y1="895.2" x2="1830" y2="895.2" stroke="#ff4040" stroke-linecap="butt"/>
<circle cx="1654.5" cy="895.2" r="7.5" fill="#ff4040" stroke="none"/>
<line x1="1654.5" y1="983.2" x2="1830" y2="983.2" stroke="#000000" stroke-linecap="butt"/>
<circle cx="1654.5" cy="983.2" r="7.5" fill="#000000" stroke="none"/>
<line x1="1654.5" y1="1071.2" x2="1830" y2="1071.2" stroke="#00ff00" stroke-linecap="butt"/>
<circle cx="1654.5" cy="1071.2" r="7.5" fill="#00ff00" stroke="none"/>
<line x1="1654.5" y1="1159.1" x2="1830" y2="1159.1" stroke="#ff00ff" stroke-linecap="butt"/>
<circle cx="1654.5" cy="1159.1" r="7.5" fill="#ff00ff" stroke="none"/>
<line x1="1654.5" y1="1247.1" x2="1830" y2="1247.1" stroke="#00ffff" stroke-linecap="butt"/>
<circle cx="1654.5" cy="1247.1" r="7.5" fill="#00ffff" stroke="none"/>
</g>
<text x="1844.3" y="311.4" font-family='"Liberation Serif", "Times New Roman", serif' font-size="83" font-weight="normal" text-anchor="start" textLength="47.9" lengthAdjust="spacingAndGlyphs">T</text>
<text x="1893.3" y="334.1" font-family='"Liberation Serif", "Times New Roman", serif' font-size="57" font-weight="normal" text-anchor="start" textLength="27" lengthAdjust="spacingAndGlyphs">x</text>
<text x="1937.0" y="311.4" font-family='"Liberation Serif", "Times New Roman", serif' font-size="83" font-weight="normal" text-anchor="start" >2</text>
<text x="1997.0" y="311.4" font-family='"Liberation Serif", "Times New Roman", serif' font-size="83" font-weight="normal" text-anchor="start" textLength="104.2" lengthAdjust="spacingAndGlyphs">&#956;m</text>
<text x="1844.3" y="398.5" font-family='"Liberation Serif", "Times New Roman", serif' font-size="83" font-weight="normal" text-anchor="start" textLength="47.9" lengthAdjust="spacingAndGlyphs">T</text>
<text x="1893.3" y="421.2" font-family='"Liberation Serif", "Times New Roman", serif' font-size="57" font-weight="normal" text-anchor="start" textLength="27" lengthAdjust="spacingAndGlyphs">x</text>
<text x="1937.0" y="398.5" font-family='"Liberation Serif", "Times New Roman", serif' font-size="83" font-weight="normal" text-anchor="start" >6</text>
<text x="1997.0" y="398.5" font-family='"Liberation Serif", "Times New Roman", serif' font-size="83" font-weight="normal" text-anchor="start" textLength="104.2" lengthAdjust="spacingAndGlyphs">&#956;m</text>
<text x="1844.3" y="485.6" font-family='"Liberation Serif", "Times New Roman", serif' font-size="83" font-weight="normal" text-anchor="start" textLength="47.9" lengthAdjust="spacingAndGlyphs">T</text>
<text x="1893.3" y="508.3" font-family='"Liberation Serif", "Times New Roman", serif' font-size="57" font-weight="normal" text-anchor="start" textLength="27" lengthAdjust="spacingAndGlyphs">x</text>
<text x="1937.0" y="485.6" font-family='"Liberation Serif", "Times New Roman", serif' font-size="83" font-weight="normal" text-anchor="start" >10</text>
<text x="2037.0" y="485.6" font-family='"Liberation Serif", "Times New Roman", serif' font-size="83" font-weight="normal" text-anchor="start" textLength="104.2" lengthAdjust="spacingAndGlyphs">&#956;m</text>
<text x="1844.3" y="572.7" font-family='"Liberation Serif", "Times New Roman", serif' font-size="83" font-weight="normal" text-anchor="start" textLength="47.9" lengthAdjust="spacingAndGlyphs">T</text>
<text x="1893.3" y="595.4" font-family='"Liberation Serif", "Times New Roman", serif' font-size="57" font-weight="normal" text-anchor="start" textLength="27" lengthAdjust="spacingAndGlyphs">x</text>
<text x="1937.0" y="572.7" font-family='"Liberation Serif", "Times New Roman", serif' font-size="83" font-weight="normal" text-anchor="start" >14</text>
<text x="2037.0" y="572.7" font-family='"Liberation Serif", "Times New Roman", serif' font-size="83" font-weight="normal" text-anchor="start" textLength="104.2" lengthAdjust="spacingAndGlyphs">&#956;m</text>
<text x="1844.3" y="659.8" font-family='"Liberation Serif", "Times New Roman", serif' font-size="83" font-weight="normal" text-anchor="start" textLength="47.9" lengthAdjust="spacingAndGlyphs">T</text>
<text x="1893.3" y="682.5" font-family='"Liberation Serif", "Times New Roman", serif' font-size="57" font-weight="normal" text-anchor="start" textLength="27" lengthAdjust="spacingAndGlyphs">x</text>
<text x="1937.0" y="659.8" font-family='"Liberation Serif", "Times New Roman", serif' font-size="83" font-weight="normal" text-anchor="start" >18</text>
<text x="2037.0" y="659.8" font-family='"Liberation Serif", "Times New Roman", serif' font-size="83" font-weight="normal" text-anchor="start" textLength="104.2" lengthAdjust="spacingAndGlyphs">&#956;m</text>
<text x="1844.3" y="746.9" font-family='"Liberation Serif", "Times New Roman", serif' font-size="83" font-weight="normal" text-anchor="start" textLength="47.9" lengthAdjust="spacingAndGlyphs">T</text>
<text x="1893.3" y="769.6" font-family='"Liberation Serif", "Times New Roman", serif' font-size="57" font-weight="normal" text-anchor="start" textLength="27" lengthAdjust="spacingAndGlyphs">x</text>
<text x="1937.0" y="746.9" font-family='"Liberation Serif", "Times New Roman", serif' font-size="83" font-weight="normal" text-anchor="start" >22</text>
<text x="2037.0" y="746.9" font-family='"Liberation Serif", "Times New Roman", serif' font-size="83" font-weight="normal" text-anchor="start" textLength="104.2" lengthAdjust="spacingAndGlyphs">&#956;m</text>
<text x="1844.3" y="834.0" font-family='"Liberation Serif", "Times New Roman", serif' font-size="83" font-weight="normal" text-anchor="start" textLength="47.9" lengthAdjust="spacingAndGlyphs">T</text>
<text x="1893.3" y="856.7" font-family='"Liberation Serif", "Times New Roman", serif' font-size="57" font-weight="normal" text-anchor="start" textLength="27" lengthAdjust="spacingAndGlyphs">y</text>
<text x="1937.0" y="834.0" font-family='"Liberation Serif", "Times New Roman", serif' font-size="83" font-weight="normal" text-anchor="start" >2</text>
<text x="1997.0" y="834.0" font-family='"Liberation Serif", "Times New Roman", serif' font-size="83" font-weight="normal" text-anchor="start" textLength="104.2" lengthAdjust="spacingAndGlyphs">&#956;m</text>
<text x="1844.3" y="921.1" font-family='"Liberation Serif", "Times New Roman", serif' font-size="83" font-weight="normal" text-anchor="start" textLength="47.9" lengthAdjust="spacingAndGlyphs">T</text>
<text x="1893.3" y="943.8" font-family='"Liberation Serif", "Times New Roman", serif' font-size="57" font-weight="normal" text-anchor="start" textLength="27" lengthAdjust="spacingAndGlyphs">y</text>
<text x="1937.0" y="921.1" font-family='"Liberation Serif", "Times New Roman", serif' font-size="83" font-weight="normal" text-anchor="start" >6</text>
<text x="1997.0" y="921.1" font-family='"Liberation Serif", "Times New Roman", serif' font-size="83" font-weight="normal" text-anchor="start" textLength="104.2" lengthAdjust="spacingAndGlyphs">&#956;m</text>
<text x="1844.3" y="1008.2" font-family='"Liberation Serif", "Times New Roman", serif' font-size="83" font-weight="normal" text-anchor="start" textLength="47.9" lengthAdjust="spacingAndGlyphs">T</text>
<text x="1893.3" y="1030.9" font-family='"Liberation Serif", "Times New Roman", serif' font-size="57" font-weight="normal" text-anchor="start" textLength="27" lengthAdjust="spacingAndGlyphs">y</text>
<text x="1937.0" y="1008.2" font-family='"Liberation Serif", "Times New Roman", serif' font-size="83" font-weight="normal" text-anchor="start" >10</text>
<text x="2037.0" y="1008.2" font-family='"Liberation Serif", "Times New Roman", serif' font-size="83" font-weight="normal" text-anchor="start" textLength="104.2" lengthAdjust="spacingAndGlyphs">&#956;m</text>
<text x="1844.3" y="1095.3" font-family='"Liberation Serif", "Times New Roman", serif' font-size="83" font-weight="normal" text-anchor="start" textLength="47.9" lengthAdjust="spacingAndGlyphs">T</text>
<text x="1893.3" y="1118.0" font-family='"Liberation Serif", "Times New Roman", serif' font-size="57" font-weight="normal" text-anchor="start" textLength="27" lengthAdjust="spacingAndGlyphs">y</text>
<text x="1937.0" y="1095.3" font-family='"Liberation Serif", "Times New Roman", serif' font-size="83" font-weight="normal" text-anchor="start" >14</text>
<text x="2037.0" y="1095.3" font-family='"Liberation Serif", "Times New Roman", serif' font-size="83" font-weight="normal" text-anchor="start" textLength="104.2" lengthAdjust="spacingAndGlyphs">&#956;m</text>
<text x="1844.3" y="1182.4" font-family='"Liberation Serif", "Times New Roman", serif' font-size="83" font-weight="normal" text-anchor="start" textLength="47.9" lengthAdjust="spacingAndGlyphs">T</text>
<text x="1893.3" y="1205.1" font-family='"Liberation Serif", "Times New Roman", serif' font-size="57" font-weight="normal" text-anchor="start" textLength="27" lengthAdjust="spacingAndGlyphs">y</text>
<text x="1937.0" y="1182.4" font-family='"Liberation Serif", "Times New Roman", serif' font-size="83" font-weight="normal" text-anchor="start" >18</text>
<text x="2037.0" y="1182.4" font-family='"Liberation Serif", "Times New Roman", serif' font-size="83" font-weight="normal" text-anchor="start" textLength="104.2" lengthAdjust="spacingAndGlyphs">&#956;m</text>
<text x="1844.3" y="1269.5" font-family='"Liberation Serif", "Times New Roman", serif' font-size="83" font-weight="normal" text-anchor="start" textLength="47.9" lengthAdjust="spacingAndGlyphs">T</text>
<text x="1893.3" y="1292.2" font-family='"Liberation Serif", "Times New Roman", serif' font-size="57" font-weight="normal" text-anchor="start" textLength="27" lengthAdjust="spacingAndGlyphs">y</text>
<text x="1937.0" y="1269.5" font-family='"Liberation Serif", "Times New Roman", serif' font-size="83" font-weight="normal" text-anchor="start" >22</text>
<text x="2037.0" y="1269.5" font-family='"Liberation Serif", "Times New Roman", serif' font-size="83" font-weight="normal" text-anchor="start" textLength="104.2" lengthAdjust="spacingAndGlyphs">&#956;m</text>
<path d="M1858,2059.4 L1858,1828 L385,1828 L385,3016 L1858,3016 L1858,2464" stroke="#000" stroke-width="4.3" fill="none" stroke-linejoin="miter"/>
<g stroke="#000" stroke-width="3.6" fill="none">
<line x1="385" y1="3016.0" x2="407" y2="3016.0"/>
<line x1="385" y1="2941.8" x2="396" y2="2941.8"/>
<line x1="385" y1="2867.5" x2="407" y2="2867.5"/>
<line x1="385" y1="2793.2" x2="396" y2="2793.2"/>
<line x1="385" y1="2719.0" x2="407" y2="2719.0"/>
<line x1="385" y1="2644.8" x2="396" y2="2644.8"/>
<line x1="385" y1="2570.5" x2="407" y2="2570.5"/>
<line x1="385" y1="2496.2" x2="396" y2="2496.2"/>
<line x1="385" y1="2422.0" x2="407" y2="2422.0"/>
<line x1="385" y1="2347.8" x2="396" y2="2347.8"/>
<line x1="385" y1="2273.5" x2="407" y2="2273.5"/>
<line x1="385" y1="2199.2" x2="396" y2="2199.2"/>
<line x1="385" y1="2125.0" x2="407" y2="2125.0"/>
<line x1="385" y1="2050.8" x2="396" y2="2050.8"/>
<line x1="385" y1="1976.5" x2="407" y2="1976.5"/>
<line x1="385" y1="1902.2" x2="396" y2="1902.2"/>
<line x1="385" y1="1828.0" x2="407" y2="1828.0"/>
<line x1="532.3" y1="3016" x2="532.3" y2="2994"/>
<line x1="679.6" y1="3016" x2="679.6" y2="3005"/>
<line x1="826.9" y1="3016" x2="826.9" y2="2994"/>
<line x1="974.2" y1="3016" x2="974.2" y2="3005"/>
<line x1="1121.5" y1="3016" x2="1121.5" y2="2994"/>
<line x1="1268.8" y1="3016" x2="1268.8" y2="3005"/>
<line x1="1416.1" y1="3016" x2="1416.1" y2="2994"/>
<line x1="1563.4" y1="3016" x2="1563.4" y2="3005"/>
<line x1="1710.7" y1="3016" x2="1710.7" y2="2994"/>
</g>
<text x="358.8" y="3046.4" font-family='"Liberation Serif", "Times New Roman", serif' font-size="102" font-weight="bold" text-anchor="end" >0</text>
<text x="358.8" y="2897.9" font-family='"Liberation Serif", "Times New Roman", serif' font-size="102" font-weight="bold" text-anchor="end" >20</text>
<text x="358.8" y="2749.4" font-family='"Liberation Serif", "Times New Roman", serif' font-size="102" font-weight="bold" text-anchor="end" >40</text>
<text x="358.8" y="2600.9" font-family='"Liberation Serif", "Times New Roman", serif' font-size="102" font-weight="bold" text-anchor="end" >60</text>
<text x="358.8" y="2452.4" font-family='"Liberation Serif", "Times New Roman", serif' font-size="102" font-weight="bold" text-anchor="end" >80</text>
<text x="358.8" y="2303.9" font-family='"Liberation Serif", "Times New Roman", serif' font-size="102" font-weight="bold" text-anchor="end" >100</text>
<text x="358.8" y="2155.4" font-family='"Liberation Serif", "Times New Roman", serif' font-size="102" font-weight="bold" text-anchor="end" >120</text>
<text x="358.8" y="2006.9" font-family='"Liberation Serif", "Times New Roman", serif' font-size="102" font-weight="bold" text-anchor="end" >140</text>
<text x="358.8" y="1858.4" font-family='"Liberation Serif", "Times New Roman", serif' font-size="102" font-weight="bold" text-anchor="end" >160</text>
<text x="532.3" y="3120.5" font-family='"Liberation Serif", "Times New Roman", serif' font-size="102" font-weight="bold" text-anchor="middle" >0.90</text>
<text x="826.9" y="3120.5" font-family='"Liberation Serif", "Times New Roman", serif' font-size="102" font-weight="bold" text-anchor="middle" >0.95</text>
<text x="1121.5" y="3120.5" font-family='"Liberation Serif", "Times New Roman", serif' font-size="102" font-weight="bold" text-anchor="middle" >1.00</text>
<text x="1416.1" y="3120.5" font-family='"Liberation Serif", "Times New Roman", serif' font-size="102" font-weight="bold" text-anchor="middle" >1.05</text>
<text x="1710.7" y="3120.5" font-family='"Liberation Serif", "Times New Roman", serif' font-size="102" font-weight="bold" text-anchor="middle" >1.10</text>
<text x="1066.5" y="3254.2" font-family='"Liberation Serif", "Times New Roman", serif' font-size="133.5" font-weight="bold" text-anchor="middle" >f(Thz)</text>
<text transform="translate(166,2380.5) rotate(-90)" font-family='"Liberation Serif", "Times New Roman", serif' font-size="133" font-weight="bold" text-anchor="middle">Extinction Ratio</text>
<text x="46.0" y="1772.0" font-family='"Liberation Sans", Arial, sans-serif' font-size="107" font-weight="bold" text-anchor="start" letter-spacing="7">(b)</text>
<g fill="none" stroke-width="15" stroke-linecap="round" stroke-linejoin="round" clip-path="url(#clipB)">

<path d="M532.0,2987.4 L536.0,2987.6 L540.0,2987.8 L544.0,2988.1 L548.0,2988.3 L552.0,2988.5 L556.0,2988.7 L560.0,2988.9 L564.0,2989.1 L568.0,2989.3 L572.0,2989.5 L576.0,2989.7 L580.0,2989.9 L584.0,2990.1 L588.0,2990.3 L592.0,2990.5 L596.0,2990.7 L600.0,2990.9 L604.0,2991.1 L608.0,2991.3 L612.0,2991.4 L616.0,2991.6 L620.0,2991.8 L624.0,2992.0 L628.0,2992.2 L632.0,2992.3 L636.0,2992.5 L640.0,2992.7 L644.0,2992.9 L648.0,2993.0 L652.0,2993.2 L656.0,2993.4 L660.0,2993.5 L664.0,2993.7 L668.0,2993.8 L672.0,2994.0 L676.0,2994.2 L680.0,2994.3 L684.0,2994.5 L688.0,2994.6 L692.0,2994.8 L696.0,2994.9 L700.0,2995.1 L704.0,2995.2 L708.0,2995.4 L712.0,2995.5 L716.0,2995.6 L720.0,2995.8 L724.0,2995.9 L728.0,2996.0 L732.0,2996.2 L736.0,2996.3 L740.0,2996.4 L744.0,2996.6 L748.0,2996.7 L752.0,2996.8 L756.0,2997.0 L760.0,2997.1 L764.0,2997.2 L768.0,2997.3 L772.0,2997.4 L776.0,2997.6 L780.0,2997.7 L784.0,2997.8 L788.0,2997.9 L792.0,2998.0 L796.0,2998.1 L800.0,2998.2 L804.0,2998.3 L808.0,2998.4 L812.0,2998.5 L816.0,2998.6 L820.0,2998.7 L824.0,2998.8 L828.0,2998.9 L832.0,2999.0 L836.0,2999.1 L840.0,2999.2 L844.0,2999.3 L848.0,2999.4 L852.0,2999.5 L856.0,2999.6 L860.0,2999.7 L864.0,2999.8 L868.0,2999.9 L872.0,2999.9 L876.0,3000.0 L880.0,3000.1 L884.0,3000.2 L888.0,3000.3 L892.0,3000.3 L896.0,3000.4 L900.0,3000.5 L904.0,3000.5 L908.0,3000.6 L912.0,3000.7 L916.0,3000.8 L920.0,3000.8 L924.0,3000.9 L928.0,3001.0 L932.0,3001.0 L936.0,3001.1 L940.0,3001.1 L944.0,3001.2 L948.0,3001.3 L952.0,3001.3 L956.0,3001.4 L960.0,3001.4 L964.0,3001.5 L968.0,3001.5 L972.0,3001.6 L976.0,3001.6 L980.0,3001.7 L984.0,3001.7 L988.0,3001.8 L992.0,3001.8 L996.0,3001.9 L1000.0,3001.9 L1004.0,3001.9 L1008.0,3002.0 L1012.0,3002.0 L1016.0,3002.1 L1020.0,3002.1 L1024.0,3002.1 L1028.0,3002.2 L1032.0,3002.2 L1036.0,3002.2 L1040.0,3002.3 L1044.0,3002.3 L1048.0,3002.3 L1052.0,3002.4 L1056.0,3002.4 L1060.0,3002.4 L1064.0,3002.4 L1068.0,3002.5 L1072.0,3002.5 L1076.0,3002.5 L1080.0,3002.5 L1084.0,3002.5 L1088.0,3002.6 L1092.0,3002.6 L1096.0,3002.6 L1100.0,3002.6 L1104.0,3002.6 L1108.0,3002.6 L1112.0,3002.7 L1116.0,3002.7 L1120.0,3002.7 L1124.0,3002.7 L1128.0,3002.7 L1132.0,3002.7 L1136.0,3002.7 L1140.0,3002.7 L1144.0,3002.7 L1148.0,3002.7 L1152.0,3002.7 L1156.0,3002.7 L1160.0,3002.7 L1164.0,3002.7 L1168.0,3002.7 L1172.0,3002.7 L1176.0,3002.7 L1180.0,3002.7 L1184.0,3002.7 L1188.0,3002.7 L1192.0,3002.7 L1196.0,3002.7 L1200.0,3002.7 L1204.0,3002.7 L1208.0,3002.7 L1212.0,3002.7 L1216.0,3002.7 L1220.0,3002.6 L1224.0,3002.6 L1228.0,3002.6 L1232.0,3002.6 L1236.0,3002.6 L1240.0,3002.6 L1244.0,3002.6 L1248.0,3002.5 L1252.0,3002.5 L1256.0,3002.5 L1260.0,3002.5 L1264.0,3002.5 L1268.0,3002.4 L1272.0,3002.4 L1276.0,3002.4 L1280.0,3002.4 L1284.0,3002.3 L1288.0,3002.3 L1292.0,3002.3 L1296.0,3002.3 L1300.0,3002.2 L1304.0,3002.2 L1308.0,3002.2 L1312.0,3002.2 L1316.0,3002.1 L1320.0,3002.1 L1324.0,3002.1 L1328.0,3002.0 L1332.0,3002.0 L1336.0,3002.0 L1340.0,3001.9 L1344.0,3001.9 L1348.0,3001.9 L1352.0,3001.8 L1356.0,3001.8 L1360.0,3001.8 L1364.0,3001.7 L1368.0,3001.7 L1372.0,3001.6 L1376.0,3001.6 L1380.0,3001.6 L1384.0,3001.5 L1388.0,3001.5 L1392.0,3001.4 L1396.0,3001.4 L1400.0,3001.4 L1404.0,3001.3 L1408.0,3001.3 L1412.0,3001.2 L1416.0,3001.2 L1420.0,3001.1 L1424.0,3001.1 L1428.0,3001.0 L1432.0,3001.0 L1436.0,3000.9 L1440.0,3000.9 L1444.0,3000.8 L1448.0,3000.8 L1452.0,3000.8 L1456.0,3000.7 L1460.0,3000.7 L1464.0,3000.6 L1468.0,3000.5 L1472.0,3000.5 L1476.0,3000.4 L1480.0,3000.4 L1484.0,3000.3 L1488.0,3000.3 L1492.0,3000.2 L1496.0,3000.2 L1500.0,3000.1 L1504.0,3000.1 L1508.0,3000.0 L1512.0,3000.0 L1516.0,2999.9 L1520.0,2999.8 L1524.0,2999.8 L1528.0,2999.7 L1532.0,2999.7 L1536.0,2999.6 L1540.0,2999.6 L1544.0,2999.5 L1548.0,2999.4 L1552.0,2999.4 L1556.0,2999.3 L1560.0,2999.3 L1564.0,2999.2 L1568.0,2999.1 L1572.0,2999.1 L1576.0,2999.0 L1580.0,2999.0 L1584.0,2998.9 L1588.0,2998.8 L1592.0,2998.8 L1596.0,2998.7 L1600.0,2998.7 L1604.0,2998.6 L1608.0,2998.5 L1612.0,2998.5 L1616.0,2998.4 L1620.0,2998.3 L1624.0,2998.3 L1628.0,2998.2 L1632.0,2998.2 L1636.0,2998.1 L1640.0,2998.0 L1644.0,2998.0 L1648.0,2997.9 L1652.0,2997.8 L1656.0,2997.8 L1660.0,2997.7 L1664.0,2997.6 L1668.0,2997.6 L1672.0,2997.5 L1676.0,2997.4 L1680.0,2997.4 L1684.0,2997.3 L1688.0,2997.2 L1692.0,2997.2 L1696.0,2997.1 L1700.0,2997.0 L1704.0,2997.0 L1708.0,2996.9 L1710.7,2996.9" stroke="#0000ff"/>
<path d="M532.0,2914.5 L536.0,2915.3 L540.0,2916.0 L544.0,2916.7 L548.0,2917.5 L552.0,2918.2 L556.0,2918.9 L560.0,2919.7 L564.0,2920.4 L568.0,2921.1 L572.0,2921.8 L576.0,2922.5 L580.0,2923.2 L584.0,2923.9 L588.0,2924.6 L592.0,2925.3 L596.0,2926.0 L600.0,2926.6 L604.0,2927.3 L608.0,2928.0 L612.0,2928.6 L616.0,2929.3 L620.0,2929.9 L624.0,2930.6 L628.0,2931.2 L632.0,2931.8 L636.0,2932.5 L640.0,2933.1 L644.0,2933.7 L648.0,2934.3 L652.0,2935.0 L656.0,2935.6 L660.0,2936.2 L664.0,2936.8 L668.0,2937.4 L672.0,2937.9 L676.0,2938.5 L680.0,2939.1 L684.0,2939.7 L688.0,2940.3 L692.0,2940.8 L696.0,2941.4 L700.0,2941.9 L704.0,2942.5 L708.0,2943.0 L712.0,2943.6 L716.0,2944.1 L720.0,2944.7 L724.0,2945.2 L728.0,2945.7 L732.0,2946.2 L736.0,2946.8 L740.0,2947.3 L744.0,2947.8 L748.0,2948.3 L752.0,2948.8 L756.0,2949.3 L760.0,2949.8 L764.0,2950.2 L768.0,2950.7 L772.0,2951.2 L776.0,2951.7 L780.0,2952.1 L784.0,2952.6 L788.0,2953.1 L792.0,2953.5 L796.0,2954.0 L800.0,2954.4 L804.0,2954.9 L808.0,2955.3 L812.0,2955.7 L816.0,2956.2 L820.0,2956.6 L824.0,2957.0 L828.0,2957.4 L832.0,2957.8 L836.0,2958.2 L840.0,2958.7 L844.0,2959.1 L848.0,2959.4 L852.0,2959.8 L856.0,2960.2 L860.0,2960.6 L864.0,2961.0 L868.0,2961.4 L872.0,2961.7 L876.0,2962.1 L880.0,2962.5 L884.0,2962.8 L888.0,2963.2 L892.0,2963.5 L896.0,2963.9 L900.0,2964.2 L904.0,2964.6 L908.0,2964.9 L912.0,2965.2 L916.0,2965.6 L920.0,2965.9 L924.0,2966.2 L928.0,2966.5 L932.0,2966.8 L936.0,2967.1 L940.0,2967.4 L944.0,2967.7 L948.0,2968.0 L952.0,2968.3 L956.0,2968.6 L960.0,2968.9 L964.0,2969.2 L968.0,2969.4 L972.0,2969.7 L976.0,2970.0 L980.0,2970.2 L984.0,2970.5 L988.0,2970.8 L992.0,2971.0 L996.0,2971.3 L1000.0,2971.5 L1004.0,2971.7 L1008.0,2972.0 L1012.0,2972.2 L1016.0,2972.4 L1020.0,2972.7 L1024.0,2972.9 L1028.0,2973.1 L1032.0,2973.3 L1036.0,2973.5 L1040.0,2973.7 L1044.0,2973.9 L1048.0,2974.1 L1052.0,2974.3 L1056.0,2974.5 L1060.0,2974.7 L1064.0,2974.9 L1068.0,2975.1 L1072.0,2975.3 L1076.0,2975.4 L1080.0,2975.6 L1084.0,2975.8 L1088.0,2976.0 L1092.0,2976.1 L1096.0,2976.3 L1100.0,2976.4 L1104.0,2976.6 L1108.0,2976.7 L1112.0,2976.9 L1116.0,2977.0 L1120.0,2977.1 L1124.0,2977.3 L1128.0,2977.4 L1132.0,2977.5 L1136.0,2977.7 L1140.0,2977.8 L1144.0,2977.9 L1148.0,2978.0 L1152.0,2978.1 L1156.0,2978.2 L1160.0,2978.3 L1164.0,2978.4 L1168.0,2978.5 L1172.0,2978.6 L1176.0,2978.7 L1180.0,2978.8 L1184.0,2978.9 L1188.0,2978.9 L1192.0,2979.0 L1196.0,2979.1 L1200.0,2979.2 L1204.0,2979.2 L1208.0,2979.3 L1212.0,2979.3 L1216.0,2979.4 L1220.0,2979.5 L1224.0,2979.5 L1228.0,2979.5 L1232.0,2979.6 L1236.0,2979.6 L1240.0,2979.7 L1244.0,2979.7 L1248.0,2979.7 L1252.0,2979.8 L1256.0,2979.8 L1260.0,2979.8 L1264.0,2979.8 L1268.0,2979.8 L1272.0,2979.8 L1276.0,2979.9 L1280.0,2979.9 L1284.0,2979.9 L1288.0,2979.9 L1292.0,2979.9 L1296.0,2979.9 L1300.0,2979.8 L1304.0,2979.8 L1308.0,2979.8 L1312.0,2979.8 L1316.0,2979.8 L1320.0,2979.8 L1324.0,2979.7 L1328.0,2979.7 L1332.0,2979.7 L1336.0,2979.6 L1340.0,2979.6 L1344.0,2979.6 L1348.0,2979.5 L1352.0,2979.5 L1356.0,2979.4 L1360.0,2979.4 L1364.0,2979.3 L1368.0,2979.2 L1372.0,2979.2 L1376.0,2979.1 L1380.0,2979.0 L1384.0,2979.0 L1388.0,2978.9 L1392.0,2978.8 L1396.0,2978.8 L1400.0,2978.7 L1404.0,2978.6 L1408.0,2978.5 L1412.0,2978.4 L1416.0,2978.3 L1420.0,2978.2 L1424.0,2978.1 L1428.0,2978.0 L1432.0,2977.9 L1436.0,2977.8 L1440.0,2977.7 L1444.0,2977.6 L1448.0,2977.5 L1452.0,2977.4 L1456.0,2977.3 L1460.0,2977.1 L1464.0,2977.0 L1468.0,2976.9 L1472.0,2976.8 L1476.0,2976.6 L1480.0,2976.5 L1484.0,2976.4 L1488.0,2976.2 L1492.0,2976.1 L1496.0,2975.9 L1500.0,2975.8 L1504.0,2975.6 L1508.0,2975.5 L1512.0,2975.3 L1516.0,2975.2 L1520.0,2975.0 L1524.0,2974.9 L1528.0,2974.7 L1532.0,2974.5 L1536.0,2974.4 L1540.0,2974.2 L1544.0,2974.0 L1548.0,2973.8 L1552.0,2973.7 L1556.0,2973.5 L1560.0,2973.3 L1564.0,2973.1 L1568.0,2972.9 L1572.0,2972.7 L1576.0,2972.5 L1580.0,2972.3 L1584.0,2972.2 L1588.0,2972.0 L1592.0,2971.8 L1596.0,2971.6 L1600.0,2971.3 L1604.0,2971.1 L1608.0,2970.9 L1612.0,2970.7 L1616.0,2970.5 L1620.0,2970.3 L1624.0,2970.1 L1628.0,2969.8 L1632.0,2969.6 L1636.0,2969.4 L1640.0,2969.2 L1644.0,2968.9 L1648.0,2968.7 L1652.0,2968.5 L1656.0,2968.2 L1660.0,2968.0 L1664.0,2967.8 L1668.0,2967.5 L1672.0,2967.3 L1676.0,2967.0 L1680.0,2966.8 L1684.0,2966.5 L1688.0,2966.3 L1692.0,2966.0 L1696.0,2965.8 L1700.0,2965.5 L1704.0,2965.3 L1708.0,2965.0 L1710.7,2964.8" stroke="#ff4040"/>
<path d="M532.0,2698.4 L536.0,2700.5 L540.0,2702.7 L544.0,2704.9 L548.0,2707.1 L552.0,2709.2 L556.0,2711.3 L560.0,2713.5 L564.0,2715.6 L568.0,2717.7 L572.0,2719.8 L576.0,2721.9 L580.0,2723.9 L584.0,2726.0 L588.0,2728.0 L592.0,2730.1 L596.0,2732.1 L600.0,2734.1 L604.0,2736.1 L608.0,2738.1 L612.0,2740.1 L616.0,2742.0 L620.0,2744.0 L624.0,2745.9 L628.0,2747.9 L632.0,2749.8 L636.0,2751.7 L640.0,2753.6 L644.0,2755.5 L648.0,2757.4 L652.0,2759.2 L656.0,2761.1 L660.0,2762.9 L664.0,2764.8 L668.0,2766.6 L672.0,2768.4 L676.0,2770.2 L680.0,2772.0 L684.0,2773.8 L688.0,2775.5 L692.0,2777.3 L696.0,2779.0 L700.0,2780.8 L704.0,2782.5 L708.0,2784.2 L712.0,2785.9 L716.0,2787.6 L720.0,2789.2 L724.0,2790.9 L728.0,2792.6 L732.0,2794.2 L736.0,2795.8 L740.0,2797.5 L744.0,2799.1 L748.0,2800.7 L752.0,2802.3 L756.0,2803.8 L760.0,2805.4 L764.0,2807.0 L768.0,2808.5 L772.0,2810.0 L776.0,2811.5 L780.0,2813.1 L784.0,2814.6 L788.0,2816.0 L792.0,2817.5 L796.0,2819.0 L800.0,2820.4 L804.0,2821.9 L808.0,2823.3 L812.0,2824.7 L816.0,2826.1 L820.0,2827.5 L824.0,2828.9 L828.0,2830.3 L832.0,2831.7 L836.0,2833.0 L840.0,2834.4 L844.0,2835.7 L848.0,2837.0 L852.0,2838.3 L856.0,2839.6 L860.0,2840.9 L864.0,2842.2 L868.0,2843.5 L872.0,2844.7 L876.0,2846.0 L880.0,2847.2 L884.0,2848.4 L888.0,2849.6 L892.0,2850.8 L896.0,2852.0 L900.0,2853.2 L904.0,2854.4 L908.0,2855.5 L912.0,2856.7 L916.0,2857.8 L920.0,2858.9 L924.0,2860.1 L928.0,2861.2 L932.0,2862.3 L936.0,2863.3 L940.0,2864.4 L944.0,2865.5 L948.0,2866.5 L952.0,2867.6 L956.0,2868.6 L960.0,2869.6 L964.0,2870.6 L968.0,2871.6 L972.0,2872.6 L976.0,2873.5 L980.0,2874.5 L984.0,2875.5 L988.0,2876.4 L992.0,2877.3 L996.0,2878.2 L1000.0,2879.2 L1004.0,2880.0 L1008.0,2880.9 L1012.0,2881.8 L1016.0,2882.7 L1020.0,2883.5 L1024.0,2884.4 L1028.0,2885.2 L1032.0,2886.0 L1036.0,2886.8 L1040.0,2887.6 L1044.0,2888.4 L1048.0,2889.2 L1052.0,2890.0 L1056.0,2890.7 L1060.0,2891.5 L1064.0,2892.2 L1068.0,2892.9 L1072.0,2893.6 L1076.0,2894.3 L1080.0,2895.0 L1084.0,2895.7 L1088.0,2896.4 L1092.0,2897.0 L1096.0,2897.7 L1100.0,2898.3 L1104.0,2898.9 L1108.0,2899.5 L1112.0,2900.2 L1116.0,2900.7 L1120.0,2901.3 L1124.0,2901.9 L1128.0,2902.5 L1132.0,2903.0 L1136.0,2903.6 L1140.0,2904.1 L1144.0,2904.6 L1148.0,2905.1 L1152.0,2905.6 L1156.0,2906.1 L1160.0,2906.6 L1164.0,2907.0 L1168.0,2907.5 L1172.0,2907.9 L1176.0,2908.4 L1180.0,2908.8 L1184.0,2909.2 L1188.0,2909.6 L1192.0,2910.0 L1196.0,2910.4 L1200.0,2910.8 L1204.0,2911.1 L1208.0,2911.5 L1212.0,2911.8 L1216.0,2912.1 L1220.0,2912.5 L1224.0,2912.8 L1228.0,2913.1 L1232.0,2913.4 L1236.0,2913.6 L1240.0,2913.9 L1244.0,2914.2 L1248.0,2914.4 L1252.0,2914.7 L1256.0,2914.9 L1260.0,2915.1 L1264.0,2915.3 L1268.0,2915.5 L1272.0,2915.7 L1276.0,2915.9 L1280.0,2916.0 L1284.0,2916.2 L1288.0,2916.3 L1292.0,2916.5 L1296.0,2916.6 L1300.0,2916.7 L1304.0,2916.8 L1308.0,2916.9 L1312.0,2917.0 L1316.0,2917.1 L1320.0,2917.2 L1324.0,2917.2 L1328.0,2917.3 L1332.0,2917.3 L1336.0,2917.3 L1340.0,2917.3 L1344.0,2917.4 L1348.0,2917.4 L1352.0,2917.3 L1356.0,2917.3 L1360.0,2917.3 L1364.0,2917.3 L1368.0,2917.2 L1372.0,2917.1 L1376.0,2917.1 L1380.0,2917.0 L1384.0,2916.9 L1388.0,2916.8 L1392.0,2916.7 L1396.0,2916.6 L1400.0,2916.5 L1404.0,2916.3 L1408.0,2916.2 L1412.0,2916.0 L1416.0,2915.9 L1420.0,2915.7 L1424.0,2915.5 L1428.0,2915.3 L1432.0,2915.1 L1436.0,2914.9 L1440.0,2914.7 L1444.0,2914.4 L1448.0,2914.2 L1452.0,2914.0 L1456.0,2913.7 L1460.0,2913.4 L1464.0,2913.2 L1468.0,2912.9 L1472.0,2912.6 L1476.0,2912.3 L1480.0,2912.0 L1484.0,2911.6 L1488.0,2911.3 L1492.0,2911.0 L1496.0,2910.6 L1500.0,2910.3 L1504.0,2909.9 L1508.0,2909.5 L1512.0,2909.1 L1516.0,2908.7 L1520.0,2908.3 L1524.0,2907.9 L1528.0,2907.5 L1532.0,2907.1 L1536.0,2906.6 L1540.0,2906.2 L1544.0,2905.7 L1548.0,2905.3 L1552.0,2904.8 L1556.0,2904.3 L1560.0,2903.8 L1564.0,2903.3 L1568.0,2902.8 L1572.0,2902.3 L1576.0,2901.8 L1580.0,2901.2 L1584.0,2900.7 L1588.0,2900.1 L1592.0,2899.6 L1596.0,2899.0 L1600.0,2898.4 L1604.0,2897.8 L1608.0,2897.2 L1612.0,2896.6 L1616.0,2896.0 L1620.0,2895.4 L1624.0,2894.8 L1628.0,2894.1 L1632.0,2893.5 L1636.0,2892.8 L1640.0,2892.2 L1644.0,2891.5 L1648.0,2890.8 L1652.0,2890.1 L1656.0,2889.4 L1660.0,2888.7 L1664.0,2888.0 L1668.0,2887.3 L1672.0,2886.5 L1676.0,2885.8 L1680.0,2885.1 L1684.0,2884.3 L1688.0,2883.5 L1692.0,2882.8 L1696.0,2882.0 L1700.0,2881.2 L1704.0,2880.4 L1708.0,2879.6 L1710.7,2879.1" stroke="#000000"/>
<path d="M532.0,1961.1 L536.0,1967.5 L540.0,1973.8 L544.0,1980.1 L548.0,1986.3 L552.0,1992.4 L556.0,1998.5 L560.0,2004.6 L564.0,2010.6 L568.0,2016.5 L572.0,2022.4 L576.0,2028.3 L580.0,2034.1 L584.0,2039.9 L588.0,2045.6 L592.0,2051.3 L596.0,2057.0 L600.0,2062.6 L604.0,2068.2 L608.0,2073.8 L612.0,2079.3 L616.0,2084.9 L620.0,2090.4 L624.0,2095.8 L628.0,2101.3 L632.0,2106.7 L636.0,2112.1 L640.0,2117.5 L644.0,2122.9 L648.0,2128.3 L652.0,2133.7 L656.0,2139.1 L660.0,2144.4 L664.0,2149.8 L668.0,2155.1 L672.0,2160.5 L676.0,2165.8 L680.0,2171.2 L684.0,2176.5 L688.0,2181.8 L692.0,2187.1 L696.0,2192.4 L700.0,2197.7 L704.0,2203.0 L708.0,2208.3 L712.0,2213.5 L716.0,2218.8 L720.0,2224.0 L724.0,2229.2 L728.0,2234.5 L732.0,2239.7 L736.0,2244.8 L740.0,2250.0 L744.0,2255.2 L748.0,2260.3 L752.0,2265.4 L756.0,2270.5 L760.0,2275.6 L764.0,2280.7 L768.0,2285.7 L772.0,2290.8 L776.0,2295.8 L780.0,2300.8 L784.0,2305.8 L788.0,2310.7 L792.0,2315.7 L796.0,2320.6 L800.0,2325.5 L804.0,2330.4 L808.0,2335.3 L812.0,2340.1 L816.0,2344.9 L820.0,2349.7 L824.0,2354.5 L828.0,2359.2 L832.0,2363.9 L836.0,2368.6 L840.0,2373.3 L844.0,2378.0 L848.0,2382.6 L852.0,2387.2 L856.0,2391.8 L860.0,2396.3 L864.0,2400.9 L868.0,2405.4 L872.0,2409.8 L876.0,2414.3 L880.0,2418.7 L884.0,2423.1 L888.0,2427.4 L892.0,2431.8 L896.0,2436.1 L900.0,2440.3 L904.0,2444.6 L908.0,2448.8 L912.0,2453.0 L916.0,2457.1 L920.0,2461.3 L924.0,2465.3 L928.0,2469.4 L932.0,2473.4 L936.0,2477.4 L940.0,2481.4 L944.0,2485.3 L948.0,2489.2 L952.0,2493.0 L956.0,2496.9 L960.0,2500.6 L964.0,2504.4 L968.0,2508.1 L972.0,2511.8 L976.0,2515.4 L980.0,2519.0 L984.0,2522.6 L988.0,2526.1 L992.0,2529.6 L996.0,2533.1 L1000.0,2536.5 L1004.0,2539.9 L1008.0,2543.2 L1012.0,2546.5 L1016.0,2549.8 L1020.0,2553.0 L1024.0,2556.2 L1028.0,2559.4 L1032.0,2562.5 L1036.0,2565.6 L1040.0,2568.7 L1044.0,2571.7 L1048.0,2574.7 L1052.0,2577.6 L1056.0,2580.5 L1060.0,2583.4 L1064.0,2586.2 L1068.0,2589.0 L1072.0,2591.7 L1076.0,2594.5 L1080.0,2597.1 L1084.0,2599.8 L1088.0,2602.4 L1092.0,2605.0 L1096.0,2607.5 L1100.0,2610.0 L1104.0,2612.5 L1108.0,2614.9 L1112.0,2617.3 L1116.0,2619.6 L1120.0,2622.0 L1124.0,2624.2 L1128.0,2626.5 L1132.0,2628.7 L1136.0,2630.9 L1140.0,2633.0 L1144.0,2635.1 L1148.0,2637.2 L1152.0,2639.2 L1156.0,2641.2 L1160.0,2643.1 L1164.0,2645.1 L1168.0,2647.0 L1172.0,2648.8 L1176.0,2650.6 L1180.0,2652.4 L1184.0,2654.1 L1188.0,2655.8 L1192.0,2657.5 L1196.0,2659.1 L1200.0,2660.7 L1204.0,2662.3 L1208.0,2663.8 L1212.0,2665.3 L1216.0,2666.8 L1220.0,2668.2 L1224.0,2669.6 L1228.0,2670.9 L1232.0,2672.2 L1236.0,2673.5 L1240.0,2674.7 L1244.0,2675.9 L1248.0,2677.1 L1252.0,2678.2 L1256.0,2679.3 L1260.0,2680.4 L1264.0,2681.4 L1268.0,2682.4 L1272.0,2683.4 L1276.0,2684.3 L1280.0,2685.2 L1284.0,2686.0 L1288.0,2686.8 L1292.0,2687.6 L1296.0,2688.3 L1300.0,2689.1 L1304.0,2689.7 L1308.0,2690.4 L1312.0,2691.0 L1316.0,2691.5 L1320.0,2692.1 L1324.0,2692.6 L1328.0,2693.0 L1332.0,2693.4 L1336.0,2693.8 L1340.0,2694.2 L1344.0,2694.5 L1348.0,2694.8 L1352.0,2695.1 L1356.0,2695.3 L1360.0,2695.5 L1364.0,2695.6 L1368.0,2695.7 L1372.0,2695.8 L1376.0,2695.8 L1380.0,2695.8 L1384.0,2695.8 L1388.0,2695.8 L1392.0,2695.7 L1396.0,2695.5 L1400.0,2695.4 L1404.0,2695.2 L1408.0,2694.9 L1412.0,2694.7 L1416.0,2694.4 L1420.0,2694.0 L1424.0,2693.7 L1428.0,2693.3 L1432.0,2692.8 L1436.0,2692.3 L1440.0,2691.8 L1444.0,2691.3 L1448.0,2690.7 L1452.0,2690.1 L1456.0,2689.4 L1460.0,2688.8 L1464.0,2688.0 L1468.0,2687.3 L1472.0,2686.5 L1476.0,2685.7 L1480.0,2684.8 L1484.0,2684.0 L1488.0,2683.0 L1492.0,2682.1 L1496.0,2681.1 L1500.0,2680.1 L1504.0,2679.0 L1508.0,2677.9 L1512.0,2676.8 L1516.0,2675.7 L1520.0,2674.5 L1524.0,2673.2 L1528.0,2672.0 L1532.0,2670.7 L1536.0,2669.4 L1540.0,2668.0 L1544.0,2666.6 L1548.0,2665.2 L1552.0,2663.7 L1556.0,2662.2 L1560.0,2660.7 L1564.0,2659.1 L1568.0,2657.5 L1572.0,2655.9 L1576.0,2654.2 L1580.0,2652.5 L1584.0,2650.8 L1588.0,2649.0 L1592.0,2647.3 L1596.0,2645.4 L1600.0,2643.6 L1604.0,2641.7 L1608.0,2639.7 L1612.0,2637.8 L1616.0,2635.8 L1620.0,2633.7 L1624.0,2631.7 L1628.0,2629.6 L1632.0,2627.5 L1636.0,2625.3 L1640.0,2623.1 L1644.0,2620.9 L1648.0,2618.6 L1652.0,2616.3 L1656.0,2614.0 L1660.0,2611.6 L1664.0,2609.2 L1668.0,2606.8 L1672.0,2604.3 L1676.0,2601.8 L1680.0,2599.3 L1684.0,2596.8 L1688.0,2594.2 L1692.0,2591.5 L1696.0,2588.9 L1700.0,2586.2 L1704.0,2583.5 L1708.0,2580.7 L1710.7,2578.8" stroke="#00ff00"/>
</g>
<rect x="955.3" y="1852.5" width="515.7" height="415.0" fill="#fff" stroke="none"/>
<g stroke="#404040" stroke-width="2.2" fill="none">
<polyline points="1471,1885.6 1471,1852.5 955.3,1852.5 955.3,2267.5 1471,2267.5 1471,2054"/>
<line x1="955.3" y1="1890.6" x2="964.0" y2="1890.6"/>
<line x1="955.3" y1="1929.5" x2="959.3" y2="1929.5"/>
<line x1="955.3" y1="1968.4" x2="964.0" y2="1968.4"/>
<line x1="955.3" y1="2007.3" x2="959.3" y2="2007.3"/>
<line x1="955.3" y1="2046.2" x2="964.0" y2="2046.2"/>
<line x1="955.3" y1="2085.1" x2="959.3" y2="2085.1"/>
<line x1="955.3" y1="2124.0" x2="964.0" y2="2124.0"/>
<line x1="955.3" y1="2162.9" x2="959.3" y2="2162.9"/>
<line x1="955.3" y1="2201.8" x2="964.0" y2="2201.8"/>
<line x1="955.3" y1="2240.7" x2="959.3" y2="2240.7"/>
<line x1="1005.7" y1="2267.5" x2="1005.7" y2="2258.8"/>
<line x1="1108.9" y1="2267.5" x2="1108.9" y2="2263.5"/>
<line x1="1212.1" y1="2267.5" x2="1212.1" y2="2258.8"/>
<line x1="1315.3" y1="2267.5" x2="1315.3" y2="2263.5"/>
<line x1="1418.5" y1="2267.5" x2="1418.5" y2="2258.8"/>
</g>
<text x="944.5" y="1910.0" font-family='"Liberation Serif", "Times New Roman", serif' font-size="62" font-weight="bold" text-anchor="end" >5000</text>
<text x="931.0" y="2281.7" font-family='"Liberation Serif", "Times New Roman", serif' font-size="62" font-weight="bold" text-anchor="end" >150</text>
<text x="1021.4" y="2324.0" font-family='"Liberation Serif", "Times New Roman", serif' font-size="61.4" font-weight="bold" text-anchor="middle" >0.90</text>
<text x="1432.5" y="2324.0" font-family='"Liberation Serif", "Times New Roman", serif' font-size="61.4" font-weight="bold" text-anchor="middle" >1.10</text>
<g fill="none" stroke-width="4" stroke-linecap="butt">
<path d="M1005.7,1905.7 L1008.7,1910.6 L1011.7,1915.4 L1014.7,1920.2 L1017.7,1924.9 L1020.7,1929.6 L1023.7,1934.3 L1026.7,1938.8 L1029.7,1943.4 L1032.7,1947.9 L1035.7,1952.3 L1038.7,1956.7 L1041.7,1961.1 L1044.7,1965.4 L1047.7,1969.6 L1050.7,1973.8 L1053.7,1978.0 L1056.7,1982.1 L1059.7,1986.1 L1062.7,1990.1 L1065.7,1994.1 L1068.7,1998.0 L1071.7,2001.9 L1074.7,2005.7 L1077.7,2009.5 L1080.7,2013.2 L1083.7,2016.8 L1086.7,2020.5 L1089.7,2024.0 L1092.7,2027.5 L1095.7,2031.0 L1098.7,2034.4 L1101.7,2037.8 L1104.7,2041.1 L1107.7,2044.4 L1110.7,2047.6 L1113.7,2050.7 L1116.7,2053.8 L1119.7,2056.9 L1122.7,2059.9 L1125.7,2062.9 L1128.7,2065.8 L1131.7,2068.6 L1134.7,2071.4 L1137.7,2074.2 L1140.7,2076.9 L1143.7,2079.5 L1146.7,2082.1 L1149.7,2084.7 L1152.7,2087.2 L1155.7,2089.6 L1158.7,2092.0 L1161.7,2094.3 L1164.7,2096.6 L1167.7,2098.8 L1170.7,2101.0 L1173.7,2103.1 L1176.7,2105.2 L1179.7,2107.2 L1182.7,2109.2 L1185.7,2111.1 L1188.7,2112.9 L1191.7,2114.7 L1194.7,2116.5 L1197.7,2118.2 L1200.7,2119.8 L1203.7,2121.4 L1206.7,2122.9 L1209.7,2124.4 L1212.7,2125.8 L1215.7,2127.2 L1218.7,2128.5 L1221.7,2129.7 L1224.7,2130.9 L1227.7,2132.1 L1230.7,2133.2 L1233.7,2134.2 L1236.7,2135.2 L1239.7,2136.1 L1242.7,2137.0 L1245.7,2137.8 L1248.7,2138.5 L1251.7,2139.2 L1254.7,2139.9 L1257.7,2140.4 L1260.7,2141.0 L1263.7,2141.5 L1266.7,2141.9 L1269.7,2142.2 L1272.7,2142.5 L1275.7,2142.8 L1278.7,2143.0 L1281.7,2143.1 L1284.7,2143.2 L1287.7,2143.2 L1290.7,2143.2 L1293.7,2143.1 L1296.7,2142.9 L1299.7,2142.7 L1302.7,2142.4 L1305.7,2142.1 L1308.7,2141.7 L1311.7,2141.3 L1314.7,2140.8 L1317.7,2140.2 L1320.7,2139.6 L1323.7,2139.0 L1326.7,2138.2 L1329.7,2137.4 L1332.7,2136.6 L1335.7,2135.7 L1338.7,2134.7 L1341.7,2133.7 L1344.7,2132.6 L1347.7,2131.5 L1350.7,2130.3 L1353.7,2129.0 L1356.7,2127.7 L1359.7,2126.3 L1362.7,2124.8 L1365.7,2123.3 L1368.7,2121.8 L1371.7,2120.2 L1374.7,2118.5 L1377.7,2116.7 L1380.7,2114.9 L1383.7,2113.1 L1386.7,2111.2 L1389.7,2109.2 L1392.7,2107.1 L1395.7,2105.0 L1398.7,2102.9 L1401.7,2100.7 L1404.7,2098.4 L1407.7,2096.0 L1410.7,2093.6 L1413.7,2091.1 L1416.7,2088.6 L1418.6,2087.0" stroke="#ff3030"/>
<path d="M1005.7,2231.8 L1008.7,2232.5 L1011.7,2233.2 L1014.7,2233.9 L1017.7,2234.5 L1020.7,2235.2 L1023.7,2235.8 L1026.7,2236.5 L1029.7,2237.1 L1032.7,2237.7 L1035.7,2238.4 L1038.7,2239.0 L1041.7,2239.6 L1044.7,2240.2 L1047.7,2240.8 L1050.7,2241.4 L1053.7,2242.0 L1056.7,2242.5 L1059.7,2243.1 L1062.7,2243.7 L1065.7,2244.2 L1068.7,2244.8 L1071.7,2245.3 L1074.7,2245.8 L1077.7,2246.4 L1080.7,2246.9 L1083.7,2247.4 L1086.7,2247.9 L1089.7,2248.4 L1092.7,2248.9 L1095.7,2249.4 L1098.7,2249.8 L1101.7,2250.3 L1104.7,2250.8 L1107.7,2251.2 L1110.7,2251.7 L1113.7,2252.1 L1116.7,2252.5 L1119.7,2253.0 L1122.7,2253.4 L1125.7,2253.8 L1128.7,2254.2 L1131.7,2254.6 L1134.7,2255.0 L1137.7,2255.3 L1140.7,2255.7 L1143.7,2256.1 L1146.7,2256.4 L1149.7,2256.8 L1152.7,2257.1 L1155.7,2257.5 L1158.7,2257.8 L1161.7,2258.1 L1164.7,2258.4 L1167.7,2258.7 L1170.7,2259.0 L1173.7,2259.3 L1176.7,2259.6 L1179.7,2259.9 L1182.7,2260.2 L1185.7,2260.4 L1188.7,2260.7 L1191.7,2260.9 L1194.7,2261.2 L1197.7,2261.4 L1200.7,2261.6 L1203.7,2261.9 L1206.7,2262.1 L1209.7,2262.3 L1212.7,2262.5 L1215.7,2262.7 L1218.7,2262.9 L1221.7,2263.0 L1224.7,2263.2 L1227.7,2263.4 L1230.7,2263.5 L1233.7,2263.7 L1236.7,2263.8 L1239.7,2263.9 L1242.7,2264.0 L1245.7,2264.2 L1248.7,2264.3 L1251.7,2264.4 L1254.7,2264.5 L1257.7,2264.6 L1260.7,2264.6 L1263.7,2264.7 L1266.7,2264.8 L1269.7,2264.8 L1272.7,2264.9 L1275.7,2264.9 L1278.7,2265.0 L1281.7,2265.0 L1284.7,2265.0 L1287.7,2265.0 L1290.7,2265.0 L1293.7,2265.0 L1296.7,2265.0 L1299.7,2265.0 L1302.7,2265.0 L1305.7,2264.9 L1308.7,2264.9 L1311.7,2264.8 L1314.7,2264.8 L1317.7,2264.7 L1320.7,2264.6 L1323.7,2264.6 L1326.7,2264.5 L1329.7,2264.4 L1332.7,2264.3 L1335.7,2264.2 L1338.7,2264.1 L1341.7,2263.9 L1344.7,2263.8 L1347.7,2263.7 L1350.7,2263.5 L1353.7,2263.4 L1356.7,2263.2 L1359.7,2263.0 L1362.7,2262.9 L1365.7,2262.7 L1368.7,2262.5 L1371.7,2262.3 L1374.7,2262.1 L1377.7,2261.9 L1380.7,2261.6 L1383.7,2261.4 L1386.7,2261.2 L1389.7,2260.9 L1392.7,2260.7 L1395.7,2260.4 L1398.7,2260.1 L1401.7,2259.9 L1404.7,2259.6 L1407.7,2259.3 L1410.7,2259.0 L1413.7,2258.7 L1416.7,2258.4 L1418.6,2258.2" stroke="#0000ff"/>
<line x1="1216.7" y1="1927.3" x2="1373.5" y2="1927.3" stroke="#0000ff"/>
<line x1="1216.7" y1="1997.8" x2="1373.5" y2="1997.8" stroke="#ff3030"/>
</g>
<text x="1395.5" y="1947.5" font-family='"Liberation Serif", "Times New Roman", serif' font-size="79" font-weight="normal" text-anchor="start" textLength="77" lengthAdjust="spacingAndGlyphs">18</text>
<text x="1490.5" y="1947.5" font-family='"Liberation Serif", "Times New Roman", serif' font-size="79" font-weight="normal" text-anchor="start" textLength="104" lengthAdjust="spacingAndGlyphs">&#956;m</text>
<text x="1393.5" y="2029.6" font-family='"Liberation Serif", "Times New Roman", serif' font-size="79" font-weight="normal" text-anchor="start" textLength="77" lengthAdjust="spacingAndGlyphs">22</text>
<text x="1490.5" y="2029.6" font-family='"Liberation Serif", "Times New Roman", serif' font-size="79" font-weight="normal" text-anchor="start" textLength="104" lengthAdjust="spacingAndGlyphs">&#956;m</text>
<g fill="none" stroke-width="15">
<line x1="1570.3" y1="2115.3" x2="1792.9" y2="2115.3" stroke="#0000ff"/>
<circle cx="1570.3" cy="2115.3" r="7.5" fill="#0000ff" stroke="none"/>
<line x1="1570.3" y1="2210.1" x2="1792.9" y2="2210.1" stroke="#ff4040"/>
<circle cx="1570.3" cy="2210.1" r="7.5" fill="#ff4040" stroke="none"/>
<line x1="1570.3" y1="2304.9" x2="1792.9" y2="2304.9" stroke="#000000"/>
<circle cx="1570.3" cy="2304.9" r="7.5" fill="#000000" stroke="none"/>
<line x1="1570.3" y1="2399.7" x2="1792.9" y2="2399.7" stroke="#00ff00"/>
<circle cx="1570.3" cy="2399.7" r="7.5" fill="#00ff00" stroke="none"/>
</g>
<text x="1812.5" y="2146.5" font-family='"Liberation Serif", "Times New Roman", serif' font-size="90" font-weight="normal" text-anchor="start" >2</text>
<text x="1880.2" y="2146.5" font-family='"Liberation Serif", "Times New Roman", serif' font-size="90" font-weight="normal" text-anchor="start" textLength="115" lengthAdjust="spacingAndGlyphs">&#956;m</text>
<text x="1812.5" y="2241.7" font-family='"Liberation Serif", "Times New Roman", serif' font-size="90" font-weight="normal" text-anchor="start" >6</text>
<text x="1880.2" y="2241.7" font-family='"Liberation Serif", "Times New Roman", serif' font-size="90" font-weight="normal" text-anchor="start" textLength="115" lengthAdjust="spacingAndGlyphs">&#956;m</text>
<text x="1812.5" y="2336.9" font-family='"Liberation Serif", "Times New Roman", serif' font-size="90" font-weight="normal" text-anchor="start" >10</text>
<text x="1923.2" y="2336.9" font-family='"Liberation Serif", "Times New Roman", serif' font-size="90" font-weight="normal" text-anchor="start" textLength="115" lengthAdjust="spacingAndGlyphs">&#956;m</text>
<text x="1812.5" y="2432.1" font-family='"Liberation Serif", "Times New Roman", serif' font-size="90" font-weight="normal" text-anchor="start" >14</text>
<text x="1923.2" y="2432.1" font-family='"Liberation Serif", "Times New Roman", serif' font-size="90" font-weight="normal" text-anchor="start" textLength="115" lengthAdjust="spacingAndGlyphs">&#956;m</text>
</svg></body></html>
